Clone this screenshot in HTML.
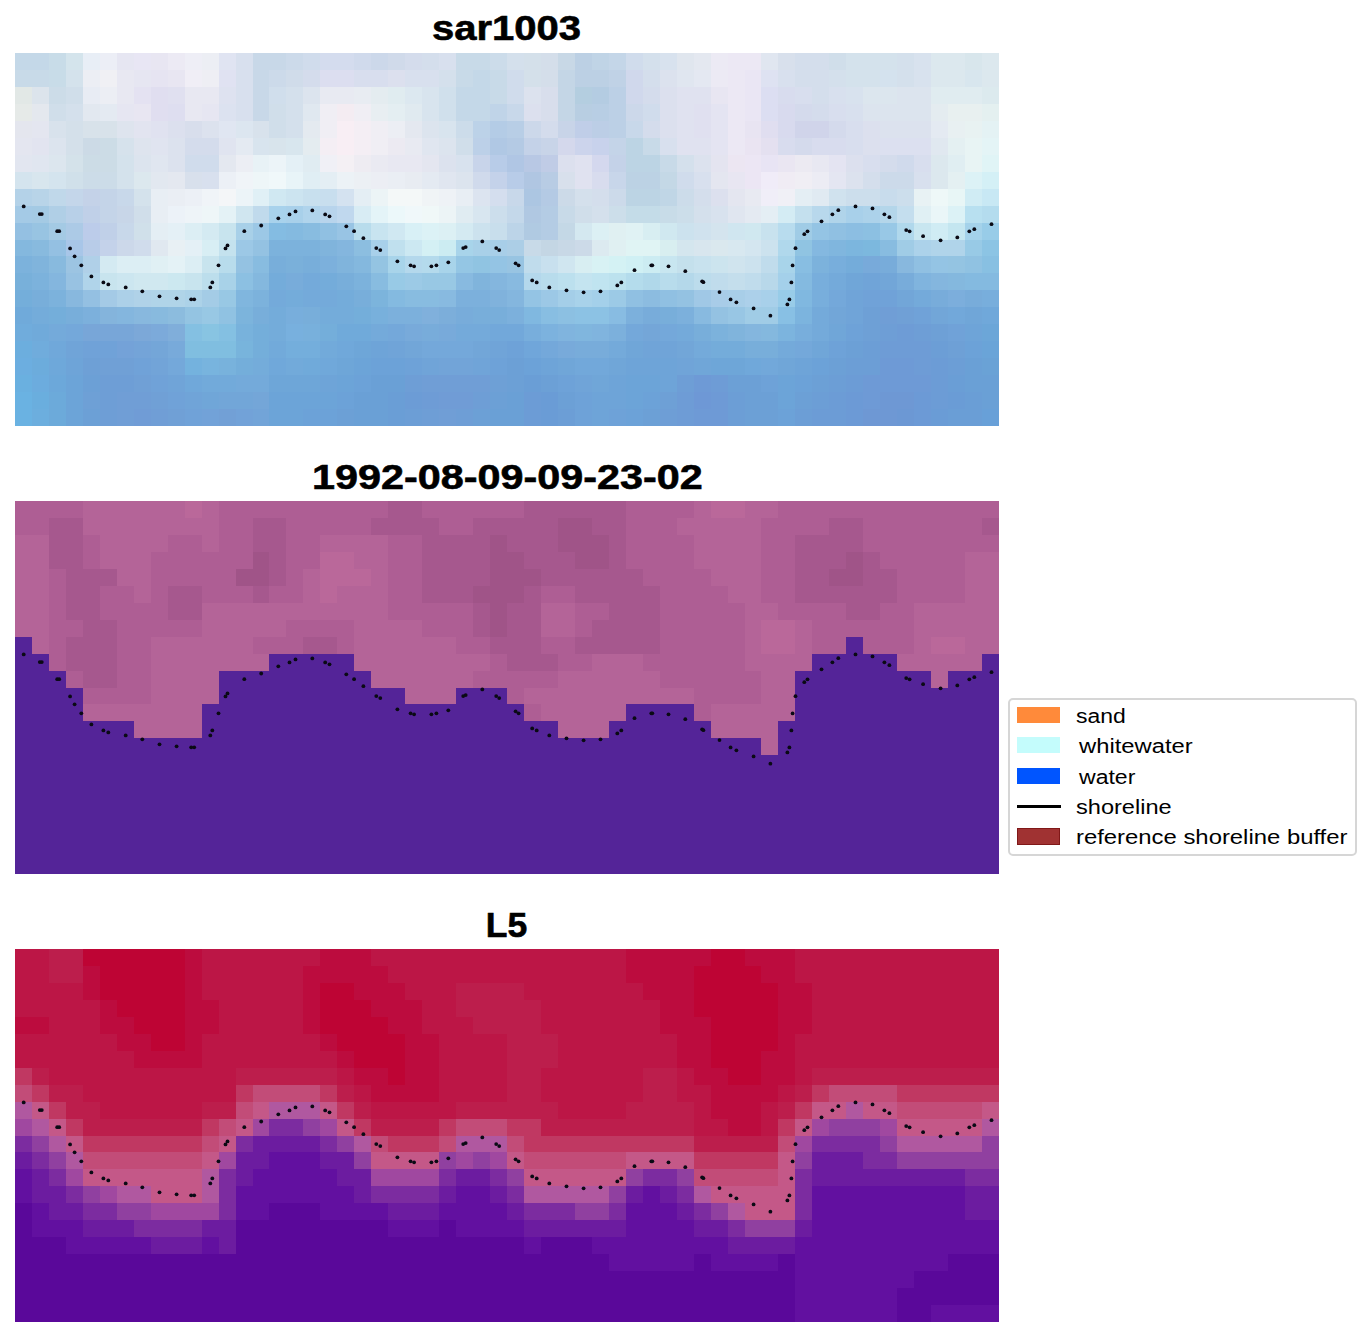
<!DOCTYPE html><html><head><meta charset="utf-8"><style>html,body{margin:0;padding:0;background:#fff;width:1370px;height:1337px;overflow:hidden;position:relative;font-family:"Liberation Sans",sans-serif;}.t{position:absolute;left:15px;width:984px;text-align:center;font-weight:bold;font-size:35.2px;line-height:1;color:#000;white-space:nowrap;-webkit-text-stroke:0.6px #000}.t span{display:inline-block;transform-origin:50% 50%}svg.im{position:absolute;left:15px;width:984px;height:373px;shape-rendering:crispEdges}.lg{position:absolute;left:1008px;top:697.5px;width:349px;height:158px;border:2px solid #d6d6d6;border-radius:5px;box-sizing:border-box;background:#fff}.lt{position:absolute;left:1076px;transform-origin:0 50%;font-size:20px;line-height:1;color:#000;white-space:nowrap}.pt{position:absolute;left:1017px;width:43px;height:16px}</style></head><body><div class="t" style="top:10.3px"><span style="transform:scaleX(1.137)">sar1003</span></div><div class="t" style="top:458.8px"><span style="transform:scaleX(1.175)">1992-08-09-09-23-02</span></div><div class="t" style="top:906.5px"><span style="transform:scaleX(1.01)">L5</span></div><svg class="im" style="top:53px" viewBox="0 0 984 373"><rect x="0.0" y="0.0" width="34.23" height="17.25" fill="#c4d8e8"/><rect x="33.93" y="0.0" width="17.27" height="17.25" fill="#c8dce8"/><rect x="50.9" y="0.0" width="17.27" height="17.25" fill="#d4e4ec"/><rect x="67.86" y="0.0" width="17.27" height="17.25" fill="#e8eef6"/><rect x="84.83" y="0.0" width="17.27" height="17.25" fill="#eceef6"/><rect x="101.79" y="0.0" width="17.27" height="17.25" fill="#e6e6f2"/><rect x="118.76" y="0.0" width="17.27" height="17.25" fill="#e8e6f4"/><rect x="135.72" y="0.0" width="17.27" height="17.25" fill="#e8e6f2"/><rect x="152.69" y="0.0" width="17.27" height="17.25" fill="#eceaf4"/><rect x="169.66" y="0.0" width="17.27" height="17.25" fill="#eeeef6"/><rect x="186.62" y="0.0" width="17.27" height="17.25" fill="#eceef4"/><rect x="203.59" y="0.0" width="17.27" height="17.25" fill="#e0e4f2"/><rect x="220.55" y="0.0" width="17.27" height="17.25" fill="#d8e0ee"/><rect x="237.52" y="0.0" width="34.23" height="17.25" fill="#c8d8e8"/><rect x="271.45" y="0.0" width="17.27" height="17.25" fill="#ccdaea"/><rect x="288.41" y="0.0" width="17.27" height="17.25" fill="#d0dcec"/><rect x="305.38" y="0.0" width="34.23" height="17.25" fill="#d4dcee"/><rect x="339.31" y="0.0" width="17.27" height="17.25" fill="#d0daec"/><rect x="356.28" y="0.0" width="17.27" height="17.25" fill="#ccd8ea"/><rect x="373.24" y="0.0" width="17.27" height="17.25" fill="#d0daea"/><rect x="390.21" y="0.0" width="17.27" height="17.25" fill="#d4dcec"/><rect x="407.17" y="0.0" width="17.27" height="17.25" fill="#d4deec"/><rect x="424.14" y="0.0" width="17.27" height="17.25" fill="#d8e0ee"/><rect x="441.1" y="0.0" width="34.23" height="17.25" fill="#c8dae8"/><rect x="475.03" y="0.0" width="17.27" height="17.25" fill="#ccdcea"/><rect x="492.0" y="0.0" width="17.27" height="17.25" fill="#d4e0ec"/><rect x="508.97" y="0.0" width="17.27" height="17.25" fill="#d4e0ea"/><rect x="525.93" y="0.0" width="17.27" height="17.25" fill="#d4deea"/><rect x="542.9" y="0.0" width="17.27" height="17.25" fill="#c8d8e6"/><rect x="559.86" y="0.0" width="17.27" height="17.25" fill="#bcd0e4"/><rect x="576.83" y="0.0" width="17.27" height="17.25" fill="#c0d4e6"/><rect x="593.79" y="0.0" width="17.27" height="17.25" fill="#c4d6e8"/><rect x="610.76" y="0.0" width="17.27" height="17.25" fill="#d0dcec"/><rect x="627.72" y="0.0" width="17.27" height="17.25" fill="#d4e0ec"/><rect x="644.69" y="0.0" width="17.27" height="17.25" fill="#d8e2ee"/><rect x="661.66" y="0.0" width="17.27" height="17.25" fill="#e0e6ee"/><rect x="678.62" y="0.0" width="17.27" height="17.25" fill="#e4e8f0"/><rect x="695.59" y="0.0" width="17.27" height="17.25" fill="#eceaf4"/><rect x="712.55" y="0.0" width="34.23" height="17.25" fill="#ece8f4"/><rect x="746.48" y="0.0" width="17.27" height="17.25" fill="#e0e6f0"/><rect x="763.45" y="0.0" width="17.27" height="17.25" fill="#d8e0ec"/><rect x="780.41" y="0.0" width="34.23" height="17.25" fill="#d4deec"/><rect x="814.34" y="0.0" width="17.27" height="17.25" fill="#d0deea"/><rect x="831.31" y="0.0" width="51.20" height="17.25" fill="#d4e2ec"/><rect x="882.21" y="0.0" width="17.27" height="17.25" fill="#d4e0ec"/><rect x="899.17" y="0.0" width="17.27" height="17.25" fill="#d8e2ee"/><rect x="916.14" y="0.0" width="34.23" height="17.25" fill="#dce8ee"/><rect x="950.07" y="0.0" width="17.27" height="17.25" fill="#d8e6ec"/><rect x="967.03" y="0.0" width="17.27" height="17.25" fill="#dce8ee"/><rect x="0.0" y="16.95" width="34.23" height="17.25" fill="#c8dae8"/><rect x="33.93" y="16.95" width="17.27" height="17.25" fill="#c8dce8"/><rect x="50.9" y="16.95" width="17.27" height="17.25" fill="#d4e2ec"/><rect x="67.86" y="16.95" width="17.27" height="17.25" fill="#eceef4"/><rect x="84.83" y="16.95" width="17.27" height="17.25" fill="#f0f0f4"/><rect x="101.79" y="16.95" width="17.27" height="17.25" fill="#e8e8f2"/><rect x="118.76" y="16.95" width="17.27" height="17.25" fill="#e6e6f2"/><rect x="135.72" y="16.95" width="17.27" height="17.25" fill="#e6e4f2"/><rect x="152.69" y="16.95" width="17.27" height="17.25" fill="#e8e6f2"/><rect x="169.66" y="16.95" width="17.27" height="17.25" fill="#f0eef6"/><rect x="186.62" y="16.95" width="17.27" height="17.25" fill="#eeeef4"/><rect x="203.59" y="16.95" width="17.27" height="17.25" fill="#e0e2f2"/><rect x="220.55" y="16.95" width="17.27" height="17.25" fill="#d8e0ee"/><rect x="237.52" y="16.95" width="17.27" height="17.25" fill="#c8d8e8"/><rect x="254.48" y="16.95" width="17.27" height="17.25" fill="#ccdaea"/><rect x="271.45" y="16.95" width="17.27" height="17.25" fill="#d0dcea"/><rect x="288.41" y="16.95" width="17.27" height="17.25" fill="#d4dcec"/><rect x="305.38" y="16.95" width="34.23" height="17.25" fill="#dcdef0"/><rect x="339.31" y="16.95" width="34.23" height="17.25" fill="#d8deee"/><rect x="373.24" y="16.95" width="17.27" height="17.25" fill="#dce0ee"/><rect x="390.21" y="16.95" width="34.23" height="17.25" fill="#d8e0ee"/><rect x="424.14" y="16.95" width="17.27" height="17.25" fill="#d4e0ec"/><rect x="441.1" y="16.95" width="17.27" height="17.25" fill="#c8dae8"/><rect x="458.07" y="16.95" width="17.27" height="17.25" fill="#c4d8e8"/><rect x="475.03" y="16.95" width="17.27" height="17.25" fill="#c8dae8"/><rect x="492.0" y="16.95" width="17.27" height="17.25" fill="#d0dcec"/><rect x="508.97" y="16.95" width="17.27" height="17.25" fill="#d4e0ea"/><rect x="525.93" y="16.95" width="17.27" height="17.25" fill="#d4deea"/><rect x="542.9" y="16.95" width="17.27" height="17.25" fill="#c4d6e6"/><rect x="559.86" y="16.95" width="34.23" height="17.25" fill="#bcd0e4"/><rect x="593.79" y="16.95" width="17.27" height="17.25" fill="#c0d2e6"/><rect x="610.76" y="16.95" width="17.27" height="17.25" fill="#d0d8ec"/><rect x="627.72" y="16.95" width="17.27" height="17.25" fill="#d4deec"/><rect x="644.69" y="16.95" width="17.27" height="17.25" fill="#dce2ee"/><rect x="661.66" y="16.95" width="17.27" height="17.25" fill="#e0e6f0"/><rect x="678.62" y="16.95" width="17.27" height="17.25" fill="#e4e8f2"/><rect x="695.59" y="16.95" width="17.27" height="17.25" fill="#eceaf4"/><rect x="712.55" y="16.95" width="17.27" height="17.25" fill="#ece8f4"/><rect x="729.52" y="16.95" width="17.27" height="17.25" fill="#eae6f4"/><rect x="746.48" y="16.95" width="17.27" height="17.25" fill="#dee2f2"/><rect x="763.45" y="16.95" width="17.27" height="17.25" fill="#d8e0ee"/><rect x="780.41" y="16.95" width="34.23" height="17.25" fill="#d4deec"/><rect x="814.34" y="16.95" width="17.27" height="17.25" fill="#d4e0ec"/><rect x="831.31" y="16.95" width="34.23" height="17.25" fill="#d4e2ec"/><rect x="865.24" y="16.95" width="17.27" height="17.25" fill="#d4e2ee"/><rect x="882.21" y="16.95" width="17.27" height="17.25" fill="#d4e0ec"/><rect x="899.17" y="16.95" width="17.27" height="17.25" fill="#d8e2ee"/><rect x="916.14" y="16.95" width="34.23" height="17.25" fill="#dce8ee"/><rect x="950.07" y="16.95" width="17.27" height="17.25" fill="#d8e6ee"/><rect x="967.03" y="16.95" width="17.27" height="17.25" fill="#dce8ee"/><rect x="0.0" y="33.91" width="17.27" height="17.25" fill="#e2e8e6"/><rect x="16.97" y="33.91" width="17.27" height="17.25" fill="#dce4ec"/><rect x="33.93" y="33.91" width="17.27" height="17.25" fill="#ccdce8"/><rect x="50.9" y="33.91" width="17.27" height="17.25" fill="#d0deea"/><rect x="67.86" y="33.91" width="17.27" height="17.25" fill="#e8ecf4"/><rect x="84.83" y="33.91" width="17.27" height="17.25" fill="#eceef4"/><rect x="101.79" y="33.91" width="17.27" height="17.25" fill="#e8e8f2"/><rect x="118.76" y="33.91" width="17.27" height="17.25" fill="#e4e2f2"/><rect x="135.72" y="33.91" width="17.27" height="17.25" fill="#e0def0"/><rect x="152.69" y="33.91" width="17.27" height="17.25" fill="#e0e0f0"/><rect x="169.66" y="33.91" width="34.23" height="17.25" fill="#e8e8f2"/><rect x="203.59" y="33.91" width="17.27" height="17.25" fill="#dee2f0"/><rect x="220.55" y="33.91" width="17.27" height="17.25" fill="#d8e0ee"/><rect x="237.52" y="33.91" width="17.27" height="17.25" fill="#c8d8e8"/><rect x="254.48" y="33.91" width="17.27" height="17.25" fill="#d0deec"/><rect x="271.45" y="33.91" width="17.27" height="17.25" fill="#d4e0ec"/><rect x="288.41" y="33.91" width="17.27" height="17.25" fill="#dce4ee"/><rect x="305.38" y="33.91" width="34.23" height="17.25" fill="#e8eaf2"/><rect x="339.31" y="33.91" width="17.27" height="17.25" fill="#e8ecf2"/><rect x="356.28" y="33.91" width="17.27" height="17.25" fill="#e4ecf0"/><rect x="373.24" y="33.91" width="17.27" height="17.25" fill="#e0ecf0"/><rect x="390.21" y="33.91" width="17.27" height="17.25" fill="#dce8f0"/><rect x="407.17" y="33.91" width="17.27" height="17.25" fill="#d8e4ee"/><rect x="424.14" y="33.91" width="17.27" height="17.25" fill="#d0e0ec"/><rect x="441.1" y="33.91" width="34.23" height="17.25" fill="#c4d8e8"/><rect x="475.03" y="33.91" width="17.27" height="17.25" fill="#c8dae8"/><rect x="492.0" y="33.91" width="17.27" height="17.25" fill="#d0dcec"/><rect x="508.97" y="33.91" width="17.27" height="17.25" fill="#dce2ee"/><rect x="525.93" y="33.91" width="17.27" height="17.25" fill="#d8deec"/><rect x="542.9" y="33.91" width="17.27" height="17.25" fill="#c4d6e6"/><rect x="559.86" y="33.91" width="17.27" height="17.25" fill="#b4cee0"/><rect x="576.83" y="33.91" width="17.27" height="17.25" fill="#b4cce2"/><rect x="593.79" y="33.91" width="17.27" height="17.25" fill="#bcd0e6"/><rect x="610.76" y="33.91" width="17.27" height="17.25" fill="#d0d8ec"/><rect x="627.72" y="33.91" width="17.27" height="17.25" fill="#d4dcec"/><rect x="644.69" y="33.91" width="17.27" height="17.25" fill="#dce0ee"/><rect x="661.66" y="33.91" width="34.23" height="17.25" fill="#e0e2f0"/><rect x="695.59" y="33.91" width="17.27" height="17.25" fill="#e8e6f2"/><rect x="712.55" y="33.91" width="17.27" height="17.25" fill="#ece8f4"/><rect x="729.52" y="33.91" width="17.27" height="17.25" fill="#eae6f4"/><rect x="746.48" y="33.91" width="17.27" height="17.25" fill="#dcdef2"/><rect x="763.45" y="33.91" width="17.27" height="17.25" fill="#d8dcee"/><rect x="780.41" y="33.91" width="17.27" height="17.25" fill="#d8deee"/><rect x="797.38" y="33.91" width="17.27" height="17.25" fill="#d4deec"/><rect x="814.34" y="33.91" width="17.27" height="17.25" fill="#d8e0ee"/><rect x="831.31" y="33.91" width="17.27" height="17.25" fill="#d8e2ee"/><rect x="848.28" y="33.91" width="34.23" height="17.25" fill="#dce6ee"/><rect x="882.21" y="33.91" width="34.23" height="17.25" fill="#dce4ee"/><rect x="916.14" y="33.91" width="51.20" height="17.25" fill="#e0ecf0"/><rect x="967.03" y="33.91" width="17.27" height="17.25" fill="#dceaee"/><rect x="0.0" y="50.86" width="17.27" height="17.25" fill="#e6eae8"/><rect x="16.97" y="50.86" width="17.27" height="17.25" fill="#e4e8ee"/><rect x="33.93" y="50.86" width="17.27" height="17.25" fill="#d0deea"/><rect x="50.9" y="50.86" width="17.27" height="17.25" fill="#d4e0ec"/><rect x="67.86" y="50.86" width="17.27" height="17.25" fill="#e2e8f0"/><rect x="84.83" y="50.86" width="17.27" height="17.25" fill="#e4eaf2"/><rect x="101.79" y="50.86" width="17.27" height="17.25" fill="#e6e6f2"/><rect x="118.76" y="50.86" width="17.27" height="17.25" fill="#e8e6f2"/><rect x="135.72" y="50.86" width="17.27" height="17.25" fill="#e0def0"/><rect x="152.69" y="50.86" width="17.27" height="17.25" fill="#dedef0"/><rect x="169.66" y="50.86" width="17.27" height="17.25" fill="#e8e8f2"/><rect x="186.62" y="50.86" width="17.27" height="17.25" fill="#e6e6f2"/><rect x="203.59" y="50.86" width="17.27" height="17.25" fill="#dce2f0"/><rect x="220.55" y="50.86" width="17.27" height="17.25" fill="#d8e0ee"/><rect x="237.52" y="50.86" width="17.27" height="17.25" fill="#c8d8e8"/><rect x="254.48" y="50.86" width="17.27" height="17.25" fill="#d0deea"/><rect x="271.45" y="50.86" width="17.27" height="17.25" fill="#d4e0ec"/><rect x="288.41" y="50.86" width="17.27" height="17.25" fill="#e0e8f0"/><rect x="305.38" y="50.86" width="17.27" height="17.25" fill="#f0eef4"/><rect x="322.34" y="50.86" width="17.27" height="17.25" fill="#f4ecf2"/><rect x="339.31" y="50.86" width="17.27" height="17.25" fill="#f0eef4"/><rect x="356.28" y="50.86" width="17.27" height="17.25" fill="#e8eef2"/><rect x="373.24" y="50.86" width="17.27" height="17.25" fill="#e4eef2"/><rect x="390.21" y="50.86" width="17.27" height="17.25" fill="#e0eaf0"/><rect x="407.17" y="50.86" width="17.27" height="17.25" fill="#d8e4ee"/><rect x="424.14" y="50.86" width="17.27" height="17.25" fill="#d0e0ec"/><rect x="441.1" y="50.86" width="34.23" height="17.25" fill="#c4d8e8"/><rect x="475.03" y="50.86" width="17.27" height="17.25" fill="#c0d4e8"/><rect x="492.0" y="50.86" width="17.27" height="17.25" fill="#c8d8ea"/><rect x="508.97" y="50.86" width="17.27" height="17.25" fill="#dce0ee"/><rect x="525.93" y="50.86" width="17.27" height="17.25" fill="#d8deec"/><rect x="542.9" y="50.86" width="17.27" height="17.25" fill="#c4d6e6"/><rect x="559.86" y="50.86" width="17.27" height="17.25" fill="#b8cee2"/><rect x="576.83" y="50.86" width="17.27" height="17.25" fill="#b8cee4"/><rect x="593.79" y="50.86" width="17.27" height="17.25" fill="#bcd0e6"/><rect x="610.76" y="50.86" width="17.27" height="17.25" fill="#ccd8ea"/><rect x="627.72" y="50.86" width="17.27" height="17.25" fill="#d0dcec"/><rect x="644.69" y="50.86" width="17.27" height="17.25" fill="#dce0ee"/><rect x="661.66" y="50.86" width="17.27" height="17.25" fill="#e0e2f0"/><rect x="678.62" y="50.86" width="17.27" height="17.25" fill="#e0e0f0"/><rect x="695.59" y="50.86" width="17.27" height="17.25" fill="#e4e4f2"/><rect x="712.55" y="50.86" width="17.27" height="17.25" fill="#ece8f4"/><rect x="729.52" y="50.86" width="17.27" height="17.25" fill="#eae6f4"/><rect x="746.48" y="50.86" width="17.27" height="17.25" fill="#dcdef2"/><rect x="763.45" y="50.86" width="17.27" height="17.25" fill="#d8daee"/><rect x="780.41" y="50.86" width="17.27" height="17.25" fill="#d4daec"/><rect x="797.38" y="50.86" width="17.27" height="17.25" fill="#d4dcec"/><rect x="814.34" y="50.86" width="17.27" height="17.25" fill="#d8deee"/><rect x="831.31" y="50.86" width="17.27" height="17.25" fill="#d8e0ee"/><rect x="848.28" y="50.86" width="68.16" height="17.25" fill="#dce4ee"/><rect x="916.14" y="50.86" width="17.27" height="17.25" fill="#e4ecf0"/><rect x="933.1" y="50.86" width="34.23" height="17.25" fill="#e8f0f0"/><rect x="967.03" y="50.86" width="17.27" height="17.25" fill="#e4f0f0"/><rect x="0.0" y="67.82" width="17.27" height="17.25" fill="#e4e6ee"/><rect x="16.97" y="67.82" width="17.27" height="17.25" fill="#e4e6f0"/><rect x="33.93" y="67.82" width="17.27" height="17.25" fill="#d8e2ec"/><rect x="50.9" y="67.82" width="17.27" height="17.25" fill="#d4e0ea"/><rect x="67.86" y="67.82" width="34.23" height="17.25" fill="#d8e2ea"/><rect x="101.79" y="67.82" width="17.27" height="17.25" fill="#dee4ee"/><rect x="118.76" y="67.82" width="17.27" height="17.25" fill="#e2e4f0"/><rect x="135.72" y="67.82" width="17.27" height="17.25" fill="#e0e2f0"/><rect x="152.69" y="67.82" width="17.27" height="17.25" fill="#dce0ee"/><rect x="169.66" y="67.82" width="17.27" height="17.25" fill="#d8deec"/><rect x="186.62" y="67.82" width="17.27" height="17.25" fill="#dce2ee"/><rect x="203.59" y="67.82" width="17.27" height="17.25" fill="#e0e6f2"/><rect x="220.55" y="67.82" width="17.27" height="17.25" fill="#dce6f0"/><rect x="237.52" y="67.82" width="17.27" height="17.25" fill="#d8e2ec"/><rect x="254.48" y="67.82" width="17.27" height="17.25" fill="#d0deea"/><rect x="271.45" y="67.82" width="17.27" height="17.25" fill="#d4e0ec"/><rect x="288.41" y="67.82" width="17.27" height="17.25" fill="#e4eaf0"/><rect x="305.38" y="67.82" width="17.27" height="17.25" fill="#f0eef4"/><rect x="322.34" y="67.82" width="17.27" height="17.25" fill="#f8eef4"/><rect x="339.31" y="67.82" width="17.27" height="17.25" fill="#f4eef4"/><rect x="356.28" y="67.82" width="17.27" height="17.25" fill="#f0eef4"/><rect x="373.24" y="67.82" width="17.27" height="17.25" fill="#eceef4"/><rect x="390.21" y="67.82" width="17.27" height="17.25" fill="#e4e8f0"/><rect x="407.17" y="67.82" width="17.27" height="17.25" fill="#dce4ee"/><rect x="424.14" y="67.82" width="17.27" height="17.25" fill="#d8e4ee"/><rect x="441.1" y="67.82" width="17.27" height="17.25" fill="#ccdcea"/><rect x="458.07" y="67.82" width="17.27" height="17.25" fill="#bcd2e8"/><rect x="475.03" y="67.82" width="17.27" height="17.25" fill="#b4cce6"/><rect x="492.0" y="67.82" width="17.27" height="17.25" fill="#b8cee6"/><rect x="508.97" y="67.82" width="17.27" height="17.25" fill="#ccd8ea"/><rect x="525.93" y="67.82" width="17.27" height="17.25" fill="#d4dcec"/><rect x="542.9" y="67.82" width="17.27" height="17.25" fill="#c8d4e8"/><rect x="559.86" y="67.82" width="17.27" height="17.25" fill="#c0cee8"/><rect x="576.83" y="67.82" width="17.27" height="17.25" fill="#bccee6"/><rect x="593.79" y="67.82" width="17.27" height="17.25" fill="#bcd0e6"/><rect x="610.76" y="67.82" width="17.27" height="17.25" fill="#c8d8ea"/><rect x="627.72" y="67.82" width="17.27" height="17.25" fill="#d4dcec"/><rect x="644.69" y="67.82" width="17.27" height="17.25" fill="#dce0ee"/><rect x="661.66" y="67.82" width="17.27" height="17.25" fill="#e0e2f0"/><rect x="678.62" y="67.82" width="17.27" height="17.25" fill="#e0e0f0"/><rect x="695.59" y="67.82" width="17.27" height="17.25" fill="#e4e4f2"/><rect x="712.55" y="67.82" width="17.27" height="17.25" fill="#ece8f4"/><rect x="729.52" y="67.82" width="17.27" height="17.25" fill="#e8e4f2"/><rect x="746.48" y="67.82" width="17.27" height="17.25" fill="#e0def0"/><rect x="763.45" y="67.82" width="17.27" height="17.25" fill="#d8daee"/><rect x="780.41" y="67.82" width="34.23" height="17.25" fill="#d0d4ea"/><rect x="814.34" y="67.82" width="17.27" height="17.25" fill="#d4daec"/><rect x="831.31" y="67.82" width="17.27" height="17.25" fill="#d8deee"/><rect x="848.28" y="67.82" width="17.27" height="17.25" fill="#dce0ee"/><rect x="865.24" y="67.82" width="51.20" height="17.25" fill="#dce2ee"/><rect x="916.14" y="67.82" width="17.27" height="17.25" fill="#e4eaf2"/><rect x="933.1" y="67.82" width="17.27" height="17.25" fill="#e8f0f2"/><rect x="950.07" y="67.82" width="17.27" height="17.25" fill="#e8f2f2"/><rect x="967.03" y="67.82" width="17.27" height="17.25" fill="#e4f2f4"/><rect x="0.0" y="84.77" width="17.27" height="17.25" fill="#e4e6f0"/><rect x="16.97" y="84.77" width="17.27" height="17.25" fill="#e2e4f0"/><rect x="33.93" y="84.77" width="17.27" height="17.25" fill="#dce4ee"/><rect x="50.9" y="84.77" width="17.27" height="17.25" fill="#d4e0ea"/><rect x="67.86" y="84.77" width="17.27" height="17.25" fill="#ccdae6"/><rect x="84.83" y="84.77" width="17.27" height="17.25" fill="#ccdce6"/><rect x="101.79" y="84.77" width="17.27" height="17.25" fill="#d6e2ec"/><rect x="118.76" y="84.77" width="17.27" height="17.25" fill="#dee4ee"/><rect x="135.72" y="84.77" width="17.27" height="17.25" fill="#e0e4f0"/><rect x="152.69" y="84.77" width="17.27" height="17.25" fill="#dce2ee"/><rect x="169.66" y="84.77" width="34.23" height="17.25" fill="#d4dcec"/><rect x="203.59" y="84.77" width="17.27" height="17.25" fill="#e0e4f0"/><rect x="220.55" y="84.77" width="17.27" height="17.25" fill="#e4eaf2"/><rect x="237.52" y="84.77" width="17.27" height="17.25" fill="#d8e4ee"/><rect x="254.48" y="84.77" width="17.27" height="17.25" fill="#d8e4ec"/><rect x="271.45" y="84.77" width="17.27" height="17.25" fill="#d8e6ee"/><rect x="288.41" y="84.77" width="17.27" height="17.25" fill="#e4ecf0"/><rect x="305.38" y="84.77" width="17.27" height="17.25" fill="#f4eef4"/><rect x="322.34" y="84.77" width="17.27" height="17.25" fill="#f8eef4"/><rect x="339.31" y="84.77" width="17.27" height="17.25" fill="#f4eef4"/><rect x="356.28" y="84.77" width="17.27" height="17.25" fill="#f0eef4"/><rect x="373.24" y="84.77" width="17.27" height="17.25" fill="#eceaf2"/><rect x="390.21" y="84.77" width="17.27" height="17.25" fill="#e8eaf2"/><rect x="407.17" y="84.77" width="17.27" height="17.25" fill="#e0e6f0"/><rect x="424.14" y="84.77" width="17.27" height="17.25" fill="#dce4ee"/><rect x="441.1" y="84.77" width="17.27" height="17.25" fill="#d0deea"/><rect x="458.07" y="84.77" width="17.27" height="17.25" fill="#bcd0e8"/><rect x="475.03" y="84.77" width="17.27" height="17.25" fill="#b0c8e4"/><rect x="492.0" y="84.77" width="17.27" height="17.25" fill="#b4cae4"/><rect x="508.97" y="84.77" width="17.27" height="17.25" fill="#c4d2e8"/><rect x="525.93" y="84.77" width="17.27" height="17.25" fill="#c8d4e8"/><rect x="542.9" y="84.77" width="17.27" height="17.25" fill="#d4d8ec"/><rect x="559.86" y="84.77" width="17.27" height="17.25" fill="#ccd4ec"/><rect x="576.83" y="84.77" width="17.27" height="17.25" fill="#c8d2ec"/><rect x="593.79" y="84.77" width="17.27" height="17.25" fill="#c4d4e8"/><rect x="610.76" y="84.77" width="17.27" height="17.25" fill="#bcd4e4"/><rect x="627.72" y="84.77" width="17.27" height="17.25" fill="#c8dae8"/><rect x="644.69" y="84.77" width="17.27" height="17.25" fill="#d8e0ee"/><rect x="661.66" y="84.77" width="34.23" height="17.25" fill="#e0e2f0"/><rect x="695.59" y="84.77" width="17.27" height="17.25" fill="#e4e4f2"/><rect x="712.55" y="84.77" width="17.27" height="17.25" fill="#ece8f4"/><rect x="729.52" y="84.77" width="17.27" height="17.25" fill="#eae4f2"/><rect x="746.48" y="84.77" width="17.27" height="17.25" fill="#e4e0f0"/><rect x="763.45" y="84.77" width="17.27" height="17.25" fill="#d8dcee"/><rect x="780.41" y="84.77" width="17.27" height="17.25" fill="#d4daec"/><rect x="797.38" y="84.77" width="34.23" height="17.25" fill="#d8dcee"/><rect x="831.31" y="84.77" width="17.27" height="17.25" fill="#d8deee"/><rect x="848.28" y="84.77" width="17.27" height="17.25" fill="#dce0ee"/><rect x="865.24" y="84.77" width="51.20" height="17.25" fill="#dce0f0"/><rect x="916.14" y="84.77" width="17.27" height="17.25" fill="#e0e8f0"/><rect x="933.1" y="84.77" width="17.27" height="17.25" fill="#e4f0f2"/><rect x="950.07" y="84.77" width="17.27" height="17.25" fill="#e8f4f4"/><rect x="967.03" y="84.77" width="17.27" height="17.25" fill="#e4f4f6"/><rect x="0.0" y="101.73" width="17.27" height="17.25" fill="#e2e6f0"/><rect x="16.97" y="101.73" width="17.27" height="17.25" fill="#e0e6f0"/><rect x="33.93" y="101.73" width="17.27" height="17.25" fill="#dce6ee"/><rect x="50.9" y="101.73" width="17.27" height="17.25" fill="#d4e2ea"/><rect x="67.86" y="101.73" width="34.23" height="17.25" fill="#ccdce6"/><rect x="101.79" y="101.73" width="17.27" height="17.25" fill="#d4e2ec"/><rect x="118.76" y="101.73" width="17.27" height="17.25" fill="#dce4ee"/><rect x="135.72" y="101.73" width="17.27" height="17.25" fill="#e0e6f0"/><rect x="152.69" y="101.73" width="17.27" height="17.25" fill="#dce2ee"/><rect x="169.66" y="101.73" width="34.23" height="17.25" fill="#d0dcec"/><rect x="203.59" y="101.73" width="17.27" height="17.25" fill="#e4e8f0"/><rect x="220.55" y="101.73" width="17.27" height="17.25" fill="#eceef4"/><rect x="237.52" y="101.73" width="17.27" height="17.25" fill="#e8f2f6"/><rect x="254.48" y="101.73" width="17.27" height="17.25" fill="#ecf4f8"/><rect x="271.45" y="101.73" width="17.27" height="17.25" fill="#e4f0f6"/><rect x="288.41" y="101.73" width="17.27" height="17.25" fill="#e0ecf2"/><rect x="305.38" y="101.73" width="17.27" height="17.25" fill="#f0f0f6"/><rect x="322.34" y="101.73" width="17.27" height="17.25" fill="#f4f0f4"/><rect x="339.31" y="101.73" width="17.27" height="17.25" fill="#eeecf2"/><rect x="356.28" y="101.73" width="17.27" height="17.25" fill="#eaeaf2"/><rect x="373.24" y="101.73" width="34.23" height="17.25" fill="#e8e8f2"/><rect x="407.17" y="101.73" width="17.27" height="17.25" fill="#e4e6f0"/><rect x="424.14" y="101.73" width="17.27" height="17.25" fill="#dce2ee"/><rect x="441.1" y="101.73" width="17.27" height="17.25" fill="#d8e2ee"/><rect x="458.07" y="101.73" width="17.27" height="17.25" fill="#c8d4ea"/><rect x="475.03" y="101.73" width="17.27" height="17.25" fill="#b8cce8"/><rect x="492.0" y="101.73" width="17.27" height="17.25" fill="#b0c6e4"/><rect x="508.97" y="101.73" width="17.27" height="17.25" fill="#b8c8e4"/><rect x="525.93" y="101.73" width="17.27" height="17.25" fill="#c0cce6"/><rect x="542.9" y="101.73" width="17.27" height="17.25" fill="#dce0ee"/><rect x="559.86" y="101.73" width="17.27" height="17.25" fill="#e0e2f0"/><rect x="576.83" y="101.73" width="17.27" height="17.25" fill="#d4d8ee"/><rect x="593.79" y="101.73" width="17.27" height="17.25" fill="#c4d2e8"/><rect x="610.76" y="101.73" width="34.23" height="17.25" fill="#bcd4e4"/><rect x="644.69" y="101.73" width="17.27" height="17.25" fill="#c8dae8"/><rect x="661.66" y="101.73" width="17.27" height="17.25" fill="#d4e0ec"/><rect x="678.62" y="101.73" width="17.27" height="17.25" fill="#dce2ee"/><rect x="695.59" y="101.73" width="17.27" height="17.25" fill="#e4e4f0"/><rect x="712.55" y="101.73" width="17.27" height="17.25" fill="#ece6f2"/><rect x="729.52" y="101.73" width="17.27" height="17.25" fill="#ece6f4"/><rect x="746.48" y="101.73" width="17.27" height="17.25" fill="#e8e4f4"/><rect x="763.45" y="101.73" width="17.27" height="17.25" fill="#eae6f2"/><rect x="780.41" y="101.73" width="17.27" height="17.25" fill="#eceaf2"/><rect x="797.38" y="101.73" width="17.27" height="17.25" fill="#e8e8f2"/><rect x="814.34" y="101.73" width="17.27" height="17.25" fill="#e4e4f2"/><rect x="831.31" y="101.73" width="17.27" height="17.25" fill="#dce0ee"/><rect x="848.28" y="101.73" width="17.27" height="17.25" fill="#d8deee"/><rect x="865.24" y="101.73" width="17.27" height="17.25" fill="#d4dcec"/><rect x="882.21" y="101.73" width="17.27" height="17.25" fill="#d0daec"/><rect x="899.17" y="101.73" width="17.27" height="17.25" fill="#d8deee"/><rect x="916.14" y="101.73" width="17.27" height="17.25" fill="#dce8ee"/><rect x="933.1" y="101.73" width="17.27" height="17.25" fill="#e0eef2"/><rect x="950.07" y="101.73" width="17.27" height="17.25" fill="#e8f4f4"/><rect x="967.03" y="101.73" width="17.27" height="17.25" fill="#e0f4f6"/><rect x="0.0" y="118.68" width="17.27" height="17.25" fill="#d4e4ee"/><rect x="16.97" y="118.68" width="17.27" height="17.25" fill="#d8e6ee"/><rect x="33.93" y="118.68" width="17.27" height="17.25" fill="#d4e4ee"/><rect x="50.9" y="118.68" width="17.27" height="17.25" fill="#d0e0ea"/><rect x="67.86" y="118.68" width="34.23" height="17.25" fill="#ccdce8"/><rect x="101.79" y="118.68" width="17.27" height="17.25" fill="#d4e2ec"/><rect x="118.76" y="118.68" width="17.27" height="17.25" fill="#dce8ee"/><rect x="135.72" y="118.68" width="17.27" height="17.25" fill="#e2e8f0"/><rect x="152.69" y="118.68" width="17.27" height="17.25" fill="#e4e8f0"/><rect x="169.66" y="118.68" width="17.27" height="17.25" fill="#d8e0ec"/><rect x="186.62" y="118.68" width="17.27" height="17.25" fill="#d8e0ee"/><rect x="203.59" y="118.68" width="17.27" height="17.25" fill="#ecf0f6"/><rect x="220.55" y="118.68" width="17.27" height="17.25" fill="#f0f4f8"/><rect x="237.52" y="118.68" width="17.27" height="17.25" fill="#eef6f8"/><rect x="254.48" y="118.68" width="17.27" height="17.25" fill="#f0f8fa"/><rect x="271.45" y="118.68" width="17.27" height="17.25" fill="#e8f4f8"/><rect x="288.41" y="118.68" width="17.27" height="17.25" fill="#e0eef4"/><rect x="305.38" y="118.68" width="17.27" height="17.25" fill="#e4eef4"/><rect x="322.34" y="118.68" width="17.27" height="17.25" fill="#ecf2f6"/><rect x="339.31" y="118.68" width="17.27" height="17.25" fill="#ecf0f4"/><rect x="356.28" y="118.68" width="17.27" height="17.25" fill="#eceef4"/><rect x="373.24" y="118.68" width="17.27" height="17.25" fill="#eaeef4"/><rect x="390.21" y="118.68" width="17.27" height="17.25" fill="#e8ecf2"/><rect x="407.17" y="118.68" width="17.27" height="17.25" fill="#e4eaf2"/><rect x="424.14" y="118.68" width="17.27" height="17.25" fill="#e0e6f0"/><rect x="441.1" y="118.68" width="17.27" height="17.25" fill="#dce4ee"/><rect x="458.07" y="118.68" width="17.27" height="17.25" fill="#d0daec"/><rect x="475.03" y="118.68" width="17.27" height="17.25" fill="#c4d2ea"/><rect x="492.0" y="118.68" width="17.27" height="17.25" fill="#b8cce8"/><rect x="508.97" y="118.68" width="17.27" height="17.25" fill="#b0c6e2"/><rect x="525.93" y="118.68" width="17.27" height="17.25" fill="#b8cce4"/><rect x="542.9" y="118.68" width="17.27" height="17.25" fill="#d8e0ec"/><rect x="559.86" y="118.68" width="17.27" height="17.25" fill="#e0e2f0"/><rect x="576.83" y="118.68" width="17.27" height="17.25" fill="#d8dcee"/><rect x="593.79" y="118.68" width="17.27" height="17.25" fill="#c8d6ea"/><rect x="610.76" y="118.68" width="34.23" height="17.25" fill="#bcd2e4"/><rect x="644.69" y="118.68" width="17.27" height="17.25" fill="#c4d8e6"/><rect x="661.66" y="118.68" width="17.27" height="17.25" fill="#d0dcec"/><rect x="678.62" y="118.68" width="17.27" height="17.25" fill="#d8e0ee"/><rect x="695.59" y="118.68" width="17.27" height="17.25" fill="#e4e6f0"/><rect x="712.55" y="118.68" width="17.27" height="17.25" fill="#e8e6f2"/><rect x="729.52" y="118.68" width="17.27" height="17.25" fill="#ece6f4"/><rect x="746.48" y="118.68" width="17.27" height="17.25" fill="#f0ecf8"/><rect x="763.45" y="118.68" width="17.27" height="17.25" fill="#f0ecf4"/><rect x="780.41" y="118.68" width="17.27" height="17.25" fill="#f0eef4"/><rect x="797.38" y="118.68" width="17.27" height="17.25" fill="#ececf4"/><rect x="814.34" y="118.68" width="17.27" height="17.25" fill="#e4e6f2"/><rect x="831.31" y="118.68" width="17.27" height="17.25" fill="#dce2ee"/><rect x="848.28" y="118.68" width="17.27" height="17.25" fill="#d4deec"/><rect x="865.24" y="118.68" width="34.23" height="17.25" fill="#ccdaea"/><rect x="899.17" y="118.68" width="17.27" height="17.25" fill="#d8e0ee"/><rect x="916.14" y="118.68" width="17.27" height="17.25" fill="#dce8ee"/><rect x="933.1" y="118.68" width="17.27" height="17.25" fill="#e4f0f2"/><rect x="950.07" y="118.68" width="17.27" height="17.25" fill="#dcf2f6"/><rect x="967.03" y="118.68" width="17.27" height="17.25" fill="#d4f0f6"/><rect x="0.0" y="135.64" width="17.27" height="17.25" fill="#b4d2e8"/><rect x="16.97" y="135.64" width="17.27" height="17.25" fill="#b8d4e8"/><rect x="33.93" y="135.64" width="17.27" height="17.25" fill="#c0d8ea"/><rect x="50.9" y="135.64" width="17.27" height="17.25" fill="#c4d6ea"/><rect x="67.86" y="135.64" width="17.27" height="17.25" fill="#c4d2e8"/><rect x="84.83" y="135.64" width="17.27" height="17.25" fill="#c4d4e8"/><rect x="101.79" y="135.64" width="17.27" height="17.25" fill="#c8d8ea"/><rect x="118.76" y="135.64" width="17.27" height="17.25" fill="#d4e2ec"/><rect x="135.72" y="135.64" width="17.27" height="17.25" fill="#e8eef4"/><rect x="152.69" y="135.64" width="17.27" height="17.25" fill="#eaeef4"/><rect x="169.66" y="135.64" width="17.27" height="17.25" fill="#ecf0f6"/><rect x="186.62" y="135.64" width="17.27" height="17.25" fill="#f0f4f8"/><rect x="203.59" y="135.64" width="17.27" height="17.25" fill="#f4f6f8"/><rect x="220.55" y="135.64" width="17.27" height="17.25" fill="#ecf4f8"/><rect x="237.52" y="135.64" width="17.27" height="17.25" fill="#e0f0f6"/><rect x="254.48" y="135.64" width="17.27" height="17.25" fill="#d0e8f2"/><rect x="271.45" y="135.64" width="17.27" height="17.25" fill="#cce4f0"/><rect x="288.41" y="135.64" width="17.27" height="17.25" fill="#c8e0ee"/><rect x="305.38" y="135.64" width="17.27" height="17.25" fill="#c8deee"/><rect x="322.34" y="135.64" width="17.27" height="17.25" fill="#d4e2f0"/><rect x="339.31" y="135.64" width="17.27" height="17.25" fill="#e4eef4"/><rect x="356.28" y="135.64" width="17.27" height="17.25" fill="#ecf4f6"/><rect x="373.24" y="135.64" width="34.23" height="17.25" fill="#f4f8f8"/><rect x="407.17" y="135.64" width="17.27" height="17.25" fill="#f0f4f6"/><rect x="424.14" y="135.64" width="17.27" height="17.25" fill="#eef2f6"/><rect x="441.1" y="135.64" width="17.27" height="17.25" fill="#e8eef4"/><rect x="458.07" y="135.64" width="17.27" height="17.25" fill="#dce4f0"/><rect x="475.03" y="135.64" width="17.27" height="17.25" fill="#d4deee"/><rect x="492.0" y="135.64" width="17.27" height="17.25" fill="#c8d8ea"/><rect x="508.97" y="135.64" width="17.27" height="17.25" fill="#acc6e2"/><rect x="525.93" y="135.64" width="17.27" height="17.25" fill="#b4cae4"/><rect x="542.9" y="135.64" width="17.27" height="17.25" fill="#ccdae8"/><rect x="559.86" y="135.64" width="17.27" height="17.25" fill="#d4e0ec"/><rect x="576.83" y="135.64" width="17.27" height="17.25" fill="#d4deec"/><rect x="593.79" y="135.64" width="17.27" height="17.25" fill="#ccdaea"/><rect x="610.76" y="135.64" width="34.23" height="17.25" fill="#bcd4e4"/><rect x="644.69" y="135.64" width="17.27" height="17.25" fill="#c0d6e6"/><rect x="661.66" y="135.64" width="17.27" height="17.25" fill="#ccdcea"/><rect x="678.62" y="135.64" width="17.27" height="17.25" fill="#d4deec"/><rect x="695.59" y="135.64" width="17.27" height="17.25" fill="#dce0ee"/><rect x="712.55" y="135.64" width="17.27" height="17.25" fill="#e4e6f0"/><rect x="729.52" y="135.64" width="17.27" height="17.25" fill="#e8eaf2"/><rect x="746.48" y="135.64" width="17.27" height="17.25" fill="#f0eef8"/><rect x="763.45" y="135.64" width="17.27" height="17.25" fill="#f0f0f6"/><rect x="780.41" y="135.64" width="17.27" height="17.25" fill="#e4eef4"/><rect x="797.38" y="135.64" width="17.27" height="17.25" fill="#e0eaf2"/><rect x="814.34" y="135.64" width="17.27" height="17.25" fill="#d0e2ee"/><rect x="831.31" y="135.64" width="34.23" height="17.25" fill="#ccdeec"/><rect x="865.24" y="135.64" width="17.27" height="17.25" fill="#c8dcec"/><rect x="882.21" y="135.64" width="17.27" height="17.25" fill="#ccdeec"/><rect x="899.17" y="135.64" width="17.27" height="17.25" fill="#e8f2f4"/><rect x="916.14" y="135.64" width="17.27" height="17.25" fill="#eef8f8"/><rect x="933.1" y="135.64" width="17.27" height="17.25" fill="#e8f6f6"/><rect x="950.07" y="135.64" width="17.27" height="17.25" fill="#d0ecf4"/><rect x="967.03" y="135.64" width="17.27" height="17.25" fill="#c8e8f4"/><rect x="0.0" y="152.59" width="17.27" height="17.25" fill="#a4cae6"/><rect x="16.97" y="152.59" width="17.27" height="17.25" fill="#a4cae4"/><rect x="33.93" y="152.59" width="17.27" height="17.25" fill="#b0cfe6"/><rect x="50.9" y="152.59" width="17.27" height="17.25" fill="#b8d0e8"/><rect x="67.86" y="152.59" width="17.27" height="17.25" fill="#c0d0e8"/><rect x="84.83" y="152.59" width="17.27" height="17.25" fill="#c4d4e8"/><rect x="101.79" y="152.59" width="17.27" height="17.25" fill="#c8d6e8"/><rect x="118.76" y="152.59" width="17.27" height="17.25" fill="#d0deea"/><rect x="135.72" y="152.59" width="17.27" height="17.25" fill="#e8eef4"/><rect x="152.69" y="152.59" width="17.27" height="17.25" fill="#ecf2f8"/><rect x="169.66" y="152.59" width="17.27" height="17.25" fill="#eef4f8"/><rect x="186.62" y="152.59" width="17.27" height="17.25" fill="#eef6f8"/><rect x="203.59" y="152.59" width="17.27" height="17.25" fill="#e4f2f6"/><rect x="220.55" y="152.59" width="17.27" height="17.25" fill="#d0e6f0"/><rect x="237.52" y="152.59" width="17.27" height="17.25" fill="#c0daec"/><rect x="254.48" y="152.59" width="17.27" height="17.25" fill="#a8d2ec"/><rect x="271.45" y="152.59" width="17.27" height="17.25" fill="#a8d0ea"/><rect x="288.41" y="152.59" width="17.27" height="17.25" fill="#b0d4ec"/><rect x="305.38" y="152.59" width="17.27" height="17.25" fill="#b8d4ec"/><rect x="322.34" y="152.59" width="17.27" height="17.25" fill="#c0d8ee"/><rect x="339.31" y="152.59" width="17.27" height="17.25" fill="#d8ecf4"/><rect x="356.28" y="152.59" width="17.27" height="17.25" fill="#e4f4f8"/><rect x="373.24" y="152.59" width="17.27" height="17.25" fill="#ecf8fa"/><rect x="390.21" y="152.59" width="17.27" height="17.25" fill="#f0f8fa"/><rect x="407.17" y="152.59" width="17.27" height="17.25" fill="#f0f8f8"/><rect x="424.14" y="152.59" width="17.27" height="17.25" fill="#ecf4f6"/><rect x="441.1" y="152.59" width="17.27" height="17.25" fill="#e0ecf2"/><rect x="458.07" y="152.59" width="17.27" height="17.25" fill="#d8e6f0"/><rect x="475.03" y="152.59" width="17.27" height="17.25" fill="#ccdeec"/><rect x="492.0" y="152.59" width="17.27" height="17.25" fill="#c4d8ea"/><rect x="508.97" y="152.59" width="17.27" height="17.25" fill="#b0c8e2"/><rect x="525.93" y="152.59" width="17.27" height="17.25" fill="#b4cce4"/><rect x="542.9" y="152.59" width="17.27" height="17.25" fill="#c8dae8"/><rect x="559.86" y="152.59" width="17.27" height="17.25" fill="#d0deea"/><rect x="576.83" y="152.59" width="17.27" height="17.25" fill="#d4e0ec"/><rect x="593.79" y="152.59" width="17.27" height="17.25" fill="#ccdeea"/><rect x="610.76" y="152.59" width="34.23" height="17.25" fill="#c4dce8"/><rect x="644.69" y="152.59" width="17.27" height="17.25" fill="#c8dce8"/><rect x="661.66" y="152.59" width="17.27" height="17.25" fill="#ccdeea"/><rect x="678.62" y="152.59" width="17.27" height="17.25" fill="#d4e0ec"/><rect x="695.59" y="152.59" width="17.27" height="17.25" fill="#d8e2ee"/><rect x="712.55" y="152.59" width="17.27" height="17.25" fill="#e0e6f0"/><rect x="729.52" y="152.59" width="17.27" height="17.25" fill="#e4eaf2"/><rect x="746.48" y="152.59" width="17.27" height="17.25" fill="#e4eef4"/><rect x="763.45" y="152.59" width="17.27" height="17.25" fill="#d4ecf4"/><rect x="780.41" y="152.59" width="17.27" height="17.25" fill="#c4e0ee"/><rect x="797.38" y="152.59" width="17.27" height="17.25" fill="#b8d8ec"/><rect x="814.34" y="152.59" width="17.27" height="17.25" fill="#b0d4ea"/><rect x="831.31" y="152.59" width="17.27" height="17.25" fill="#a8d0ea"/><rect x="848.28" y="152.59" width="17.27" height="17.25" fill="#acd2ea"/><rect x="865.24" y="152.59" width="17.27" height="17.25" fill="#b4d6ea"/><rect x="882.21" y="152.59" width="17.27" height="17.25" fill="#c4deee"/><rect x="899.17" y="152.59" width="17.27" height="17.25" fill="#e0f0f4"/><rect x="916.14" y="152.59" width="17.27" height="17.25" fill="#eaf6f8"/><rect x="933.1" y="152.59" width="17.27" height="17.25" fill="#dcf2f6"/><rect x="950.07" y="152.59" width="17.27" height="17.25" fill="#b8e0f0"/><rect x="967.03" y="152.59" width="17.27" height="17.25" fill="#b4dcee"/><rect x="0.0" y="169.55" width="17.27" height="17.25" fill="#94c0e2"/><rect x="16.97" y="169.55" width="17.27" height="17.25" fill="#98c4e2"/><rect x="33.93" y="169.55" width="17.27" height="17.25" fill="#a4cae4"/><rect x="50.9" y="169.55" width="17.27" height="17.25" fill="#accae6"/><rect x="67.86" y="169.55" width="17.27" height="17.25" fill="#bcccea"/><rect x="84.83" y="169.55" width="17.27" height="17.25" fill="#c0d0e8"/><rect x="101.79" y="169.55" width="17.27" height="17.25" fill="#c8d8ea"/><rect x="118.76" y="169.55" width="17.27" height="17.25" fill="#d0e0ea"/><rect x="135.72" y="169.55" width="17.27" height="17.25" fill="#e4eef4"/><rect x="152.69" y="169.55" width="17.27" height="17.25" fill="#e4f0f6"/><rect x="169.66" y="169.55" width="17.27" height="17.25" fill="#dceef4"/><rect x="186.62" y="169.55" width="17.27" height="17.25" fill="#d4eaf2"/><rect x="203.59" y="169.55" width="17.27" height="17.25" fill="#c8e4ee"/><rect x="220.55" y="169.55" width="17.27" height="17.25" fill="#a8d0e8"/><rect x="237.52" y="169.55" width="17.27" height="17.25" fill="#9cc8e6"/><rect x="254.48" y="169.55" width="17.27" height="17.25" fill="#84bce2"/><rect x="271.45" y="169.55" width="17.27" height="17.25" fill="#84bae0"/><rect x="288.41" y="169.55" width="17.27" height="17.25" fill="#88bce0"/><rect x="305.38" y="169.55" width="17.27" height="17.25" fill="#90c0e2"/><rect x="322.34" y="169.55" width="17.27" height="17.25" fill="#98c4e4"/><rect x="339.31" y="169.55" width="17.27" height="17.25" fill="#b8dcec"/><rect x="356.28" y="169.55" width="17.27" height="17.25" fill="#c8e4f0"/><rect x="373.24" y="169.55" width="17.27" height="17.25" fill="#d0e8f2"/><rect x="390.21" y="169.55" width="17.27" height="17.25" fill="#d8f0f6"/><rect x="407.17" y="169.55" width="17.27" height="17.25" fill="#dcf2f6"/><rect x="424.14" y="169.55" width="17.27" height="17.25" fill="#dcf0f4"/><rect x="441.1" y="169.55" width="17.27" height="17.25" fill="#d4eaf2"/><rect x="458.07" y="169.55" width="17.27" height="17.25" fill="#cce2ee"/><rect x="475.03" y="169.55" width="17.27" height="17.25" fill="#c8deec"/><rect x="492.0" y="169.55" width="17.27" height="17.25" fill="#bcd4e8"/><rect x="508.97" y="169.55" width="17.27" height="17.25" fill="#b0cae2"/><rect x="525.93" y="169.55" width="17.27" height="17.25" fill="#b4cce4"/><rect x="542.9" y="169.55" width="17.27" height="17.25" fill="#c4d8e6"/><rect x="559.86" y="169.55" width="17.27" height="17.25" fill="#d4e8f0"/><rect x="576.83" y="169.55" width="17.27" height="17.25" fill="#dcf0f4"/><rect x="593.79" y="169.55" width="17.27" height="17.25" fill="#e0f0f2"/><rect x="610.76" y="169.55" width="17.27" height="17.25" fill="#e0f2f4"/><rect x="627.72" y="169.55" width="17.27" height="17.25" fill="#d8eef2"/><rect x="644.69" y="169.55" width="17.27" height="17.25" fill="#d0e8f0"/><rect x="661.66" y="169.55" width="17.27" height="17.25" fill="#cce2ee"/><rect x="678.62" y="169.55" width="17.27" height="17.25" fill="#d0e2ee"/><rect x="695.59" y="169.55" width="17.27" height="17.25" fill="#d4e4ee"/><rect x="712.55" y="169.55" width="17.27" height="17.25" fill="#d0e6f0"/><rect x="729.52" y="169.55" width="17.27" height="17.25" fill="#d0e8f0"/><rect x="746.48" y="169.55" width="17.27" height="17.25" fill="#c8e2ee"/><rect x="763.45" y="169.55" width="17.27" height="17.25" fill="#b8dcee"/><rect x="780.41" y="169.55" width="17.27" height="17.25" fill="#a0cce6"/><rect x="797.38" y="169.55" width="17.27" height="17.25" fill="#94c4e4"/><rect x="814.34" y="169.55" width="17.27" height="17.25" fill="#90c0e2"/><rect x="831.31" y="169.55" width="17.27" height="17.25" fill="#8cbee2"/><rect x="848.28" y="169.55" width="17.27" height="17.25" fill="#8cc0e2"/><rect x="865.24" y="169.55" width="17.27" height="17.25" fill="#98c8e6"/><rect x="882.21" y="169.55" width="17.27" height="17.25" fill="#b0d8ec"/><rect x="899.17" y="169.55" width="17.27" height="17.25" fill="#c8e6f0"/><rect x="916.14" y="169.55" width="17.27" height="17.25" fill="#d0ecf4"/><rect x="933.1" y="169.55" width="17.27" height="17.25" fill="#c4e6f0"/><rect x="950.07" y="169.55" width="17.27" height="17.25" fill="#a4d2ea"/><rect x="967.03" y="169.55" width="17.27" height="17.25" fill="#98cce8"/><rect x="0.0" y="186.5" width="17.27" height="17.25" fill="#84b8de"/><rect x="16.97" y="186.5" width="17.27" height="17.25" fill="#88bade"/><rect x="33.93" y="186.5" width="17.27" height="17.25" fill="#94c0e2"/><rect x="50.9" y="186.5" width="17.27" height="17.25" fill="#a8c6e8"/><rect x="67.86" y="186.5" width="17.27" height="17.25" fill="#b8cce8"/><rect x="84.83" y="186.5" width="17.27" height="17.25" fill="#c4d2ea"/><rect x="101.79" y="186.5" width="17.27" height="17.25" fill="#ccd8ea"/><rect x="118.76" y="186.5" width="17.27" height="17.25" fill="#d0dcec"/><rect x="135.72" y="186.5" width="17.27" height="17.25" fill="#e0e8f0"/><rect x="152.69" y="186.5" width="17.27" height="17.25" fill="#e8f0f4"/><rect x="169.66" y="186.5" width="17.27" height="17.25" fill="#e4f0f6"/><rect x="186.62" y="186.5" width="17.27" height="17.25" fill="#d8eef4"/><rect x="203.59" y="186.5" width="17.27" height="17.25" fill="#c4e2ee"/><rect x="220.55" y="186.5" width="17.27" height="17.25" fill="#9cc8e6"/><rect x="237.52" y="186.5" width="17.27" height="17.25" fill="#94c2e2"/><rect x="254.48" y="186.5" width="51.20" height="17.25" fill="#7cb2dc"/><rect x="305.38" y="186.5" width="17.27" height="17.25" fill="#80b4dc"/><rect x="322.34" y="186.5" width="17.27" height="17.25" fill="#84b6de"/><rect x="339.31" y="186.5" width="17.27" height="17.25" fill="#8cbee0"/><rect x="356.28" y="186.5" width="17.27" height="17.25" fill="#a8d0ea"/><rect x="373.24" y="186.5" width="17.27" height="17.25" fill="#c0e0ee"/><rect x="390.21" y="186.5" width="17.27" height="17.25" fill="#cce8f2"/><rect x="407.17" y="186.5" width="17.27" height="17.25" fill="#d4f0f4"/><rect x="424.14" y="186.5" width="17.27" height="17.25" fill="#ccecf2"/><rect x="441.1" y="186.5" width="17.27" height="17.25" fill="#a8d4ea"/><rect x="458.07" y="186.5" width="17.27" height="17.25" fill="#a8d0e8"/><rect x="475.03" y="186.5" width="17.27" height="17.25" fill="#a8cee8"/><rect x="492.0" y="186.5" width="17.27" height="17.25" fill="#accee6"/><rect x="508.97" y="186.5" width="17.27" height="17.25" fill="#c8dae8"/><rect x="525.93" y="186.5" width="17.27" height="17.25" fill="#c4d6e4"/><rect x="542.9" y="186.5" width="17.27" height="17.25" fill="#c8d8e6"/><rect x="559.86" y="186.5" width="17.27" height="17.25" fill="#ccdae8"/><rect x="576.83" y="186.5" width="17.27" height="17.25" fill="#dceaf0"/><rect x="593.79" y="186.5" width="17.27" height="17.25" fill="#e0f0f2"/><rect x="610.76" y="186.5" width="34.23" height="17.25" fill="#e0f4f4"/><rect x="644.69" y="186.5" width="17.27" height="17.25" fill="#d8eef0"/><rect x="661.66" y="186.5" width="17.27" height="17.25" fill="#d4e6ee"/><rect x="678.62" y="186.5" width="17.27" height="17.25" fill="#d8e6ee"/><rect x="695.59" y="186.5" width="17.27" height="17.25" fill="#dae8ee"/><rect x="712.55" y="186.5" width="17.27" height="17.25" fill="#d8e8f0"/><rect x="729.52" y="186.5" width="17.27" height="17.25" fill="#d4e6f0"/><rect x="746.48" y="186.5" width="17.27" height="17.25" fill="#cce2ee"/><rect x="763.45" y="186.5" width="17.27" height="17.25" fill="#b0d8ec"/><rect x="780.41" y="186.5" width="17.27" height="17.25" fill="#90c4e2"/><rect x="797.38" y="186.5" width="17.27" height="17.25" fill="#84b8e0"/><rect x="814.34" y="186.5" width="17.27" height="17.25" fill="#80b6de"/><rect x="831.31" y="186.5" width="17.27" height="17.25" fill="#7cb6de"/><rect x="848.28" y="186.5" width="17.27" height="17.25" fill="#7cb8de"/><rect x="865.24" y="186.5" width="17.27" height="17.25" fill="#88bce0"/><rect x="882.21" y="186.5" width="17.27" height="17.25" fill="#a0cce6"/><rect x="899.17" y="186.5" width="17.27" height="17.25" fill="#acd2ea"/><rect x="916.14" y="186.5" width="34.23" height="17.25" fill="#b0d4ea"/><rect x="950.07" y="186.5" width="17.27" height="17.25" fill="#98cae6"/><rect x="967.03" y="186.5" width="17.27" height="17.25" fill="#8cc4e4"/><rect x="0.0" y="203.45" width="17.27" height="17.25" fill="#7cb2dc"/><rect x="16.97" y="203.45" width="17.27" height="17.25" fill="#80b4dc"/><rect x="33.93" y="203.45" width="17.27" height="17.25" fill="#88bade"/><rect x="50.9" y="203.45" width="17.27" height="17.25" fill="#9cc4e2"/><rect x="67.86" y="203.45" width="17.27" height="17.25" fill="#b0d0e8"/><rect x="84.83" y="203.45" width="17.27" height="17.25" fill="#d4eaf2"/><rect x="101.79" y="203.45" width="34.23" height="17.25" fill="#dceef4"/><rect x="135.72" y="203.45" width="17.27" height="17.25" fill="#e0f0f4"/><rect x="152.69" y="203.45" width="17.27" height="17.25" fill="#e4f2f6"/><rect x="169.66" y="203.45" width="17.27" height="17.25" fill="#dceef4"/><rect x="186.62" y="203.45" width="17.27" height="17.25" fill="#c8e4ee"/><rect x="203.59" y="203.45" width="17.27" height="17.25" fill="#b8dcec"/><rect x="220.55" y="203.45" width="17.27" height="17.25" fill="#94c2e2"/><rect x="237.52" y="203.45" width="17.27" height="17.25" fill="#88bce0"/><rect x="254.48" y="203.45" width="17.27" height="17.25" fill="#78aeda"/><rect x="271.45" y="203.45" width="17.27" height="17.25" fill="#7ab0da"/><rect x="288.41" y="203.45" width="17.27" height="17.25" fill="#78aeda"/><rect x="305.38" y="203.45" width="17.27" height="17.25" fill="#7cb0dc"/><rect x="322.34" y="203.45" width="17.27" height="17.25" fill="#80b4dc"/><rect x="339.31" y="203.45" width="17.27" height="17.25" fill="#84b8de"/><rect x="356.28" y="203.45" width="17.27" height="17.25" fill="#94c4e2"/><rect x="373.24" y="203.45" width="17.27" height="17.25" fill="#a8d4ea"/><rect x="390.21" y="203.45" width="17.27" height="17.25" fill="#b4d8ec"/><rect x="407.17" y="203.45" width="17.27" height="17.25" fill="#b4daec"/><rect x="424.14" y="203.45" width="17.27" height="17.25" fill="#a8d4ea"/><rect x="441.1" y="203.45" width="17.27" height="17.25" fill="#94c6e4"/><rect x="458.07" y="203.45" width="17.27" height="17.25" fill="#90c4e2"/><rect x="475.03" y="203.45" width="17.27" height="17.25" fill="#94c4e4"/><rect x="492.0" y="203.45" width="17.27" height="17.25" fill="#98c4e2"/><rect x="508.97" y="203.45" width="17.27" height="17.25" fill="#c0dcec"/><rect x="525.93" y="203.45" width="17.27" height="17.25" fill="#c8e0ee"/><rect x="542.9" y="203.45" width="17.27" height="17.25" fill="#d0e6f0"/><rect x="559.86" y="203.45" width="17.27" height="17.25" fill="#d8eef2"/><rect x="576.83" y="203.45" width="17.27" height="17.25" fill="#d8f2f4"/><rect x="593.79" y="203.45" width="17.27" height="17.25" fill="#d4f2f4"/><rect x="610.76" y="203.45" width="17.27" height="17.25" fill="#d0f0f4"/><rect x="627.72" y="203.45" width="17.27" height="17.25" fill="#ccecf2"/><rect x="644.69" y="203.45" width="17.27" height="17.25" fill="#c8e6f0"/><rect x="661.66" y="203.45" width="17.27" height="17.25" fill="#c4e0ec"/><rect x="678.62" y="203.45" width="17.27" height="17.25" fill="#c8e2ee"/><rect x="695.59" y="203.45" width="17.27" height="17.25" fill="#cce4ee"/><rect x="712.55" y="203.45" width="17.27" height="17.25" fill="#d0e4ee"/><rect x="729.52" y="203.45" width="17.27" height="17.25" fill="#cce2ee"/><rect x="746.48" y="203.45" width="17.27" height="17.25" fill="#c0dcec"/><rect x="763.45" y="203.45" width="17.27" height="17.25" fill="#a8d4ea"/><rect x="780.41" y="203.45" width="17.27" height="17.25" fill="#88bee2"/><rect x="797.38" y="203.45" width="17.27" height="17.25" fill="#7cb2dc"/><rect x="814.34" y="203.45" width="17.27" height="17.25" fill="#78aedc"/><rect x="831.31" y="203.45" width="17.27" height="17.25" fill="#74acda"/><rect x="848.28" y="203.45" width="17.27" height="17.25" fill="#78aada"/><rect x="865.24" y="203.45" width="17.27" height="17.25" fill="#78acda"/><rect x="882.21" y="203.45" width="17.27" height="17.25" fill="#88b8de"/><rect x="899.17" y="203.45" width="17.27" height="17.25" fill="#90c0e2"/><rect x="916.14" y="203.45" width="17.27" height="17.25" fill="#94c4e4"/><rect x="933.1" y="203.45" width="17.27" height="17.25" fill="#94c4e2"/><rect x="950.07" y="203.45" width="17.27" height="17.25" fill="#90c2e2"/><rect x="967.03" y="203.45" width="17.27" height="17.25" fill="#88c0e2"/><rect x="0.0" y="220.41" width="17.27" height="17.25" fill="#78b0da"/><rect x="16.97" y="220.41" width="17.27" height="17.25" fill="#7cb2dc"/><rect x="33.93" y="220.41" width="17.27" height="17.25" fill="#84b6de"/><rect x="50.9" y="220.41" width="17.27" height="17.25" fill="#98c2e2"/><rect x="67.86" y="220.41" width="17.27" height="17.25" fill="#b0d4ea"/><rect x="84.83" y="220.41" width="17.27" height="17.25" fill="#c8e4ee"/><rect x="101.79" y="220.41" width="17.27" height="17.25" fill="#cce6f0"/><rect x="118.76" y="220.41" width="34.23" height="17.25" fill="#d0e8f0"/><rect x="152.69" y="220.41" width="17.27" height="17.25" fill="#cce8f0"/><rect x="169.66" y="220.41" width="17.27" height="17.25" fill="#c8e4ee"/><rect x="186.62" y="220.41" width="17.27" height="17.25" fill="#bcdeec"/><rect x="203.59" y="220.41" width="17.27" height="17.25" fill="#a8d2e8"/><rect x="220.55" y="220.41" width="17.27" height="17.25" fill="#8cc0e2"/><rect x="237.52" y="220.41" width="17.27" height="17.25" fill="#84b8de"/><rect x="254.48" y="220.41" width="17.27" height="17.25" fill="#74acda"/><rect x="271.45" y="220.41" width="17.27" height="17.25" fill="#78acda"/><rect x="288.41" y="220.41" width="17.27" height="17.25" fill="#74aada"/><rect x="305.38" y="220.41" width="17.27" height="17.25" fill="#74acda"/><rect x="322.34" y="220.41" width="17.27" height="17.25" fill="#78aeda"/><rect x="339.31" y="220.41" width="17.27" height="17.25" fill="#7cb2dc"/><rect x="356.28" y="220.41" width="17.27" height="17.25" fill="#88bce0"/><rect x="373.24" y="220.41" width="17.27" height="17.25" fill="#98cae6"/><rect x="390.21" y="220.41" width="17.27" height="17.25" fill="#9ccae6"/><rect x="407.17" y="220.41" width="34.23" height="17.25" fill="#98c8e4"/><rect x="441.1" y="220.41" width="17.27" height="17.25" fill="#88bae0"/><rect x="458.07" y="220.41" width="17.27" height="17.25" fill="#80b4dc"/><rect x="475.03" y="220.41" width="17.27" height="17.25" fill="#84b6de"/><rect x="492.0" y="220.41" width="17.27" height="17.25" fill="#88bae0"/><rect x="508.97" y="220.41" width="17.27" height="17.25" fill="#b4d8ec"/><rect x="525.93" y="220.41" width="17.27" height="17.25" fill="#b8dcec"/><rect x="542.9" y="220.41" width="17.27" height="17.25" fill="#bce0ee"/><rect x="559.86" y="220.41" width="17.27" height="17.25" fill="#c4e4f0"/><rect x="576.83" y="220.41" width="17.27" height="17.25" fill="#c0e4f0"/><rect x="593.79" y="220.41" width="17.27" height="17.25" fill="#bce2ee"/><rect x="610.76" y="220.41" width="17.27" height="17.25" fill="#b4dcec"/><rect x="627.72" y="220.41" width="17.27" height="17.25" fill="#b0d8ea"/><rect x="644.69" y="220.41" width="17.27" height="17.25" fill="#b8dcec"/><rect x="661.66" y="220.41" width="17.27" height="17.25" fill="#b4d8ea"/><rect x="678.62" y="220.41" width="17.27" height="17.25" fill="#bcdcec"/><rect x="695.59" y="220.41" width="17.27" height="17.25" fill="#c0dcec"/><rect x="712.55" y="220.41" width="17.27" height="17.25" fill="#c4deec"/><rect x="729.52" y="220.41" width="17.27" height="17.25" fill="#c0dcec"/><rect x="746.48" y="220.41" width="17.27" height="17.25" fill="#b8d8ea"/><rect x="763.45" y="220.41" width="17.27" height="17.25" fill="#a4d0ea"/><rect x="780.41" y="220.41" width="17.27" height="17.25" fill="#84bae0"/><rect x="797.38" y="220.41" width="17.27" height="17.25" fill="#78aedc"/><rect x="814.34" y="220.41" width="17.27" height="17.25" fill="#74aada"/><rect x="831.31" y="220.41" width="17.27" height="17.25" fill="#70a6d8"/><rect x="848.28" y="220.41" width="17.27" height="17.25" fill="#70a4d8"/><rect x="865.24" y="220.41" width="17.27" height="17.25" fill="#72a6d8"/><rect x="882.21" y="220.41" width="17.27" height="17.25" fill="#78acda"/><rect x="899.17" y="220.41" width="17.27" height="17.25" fill="#80b4de"/><rect x="916.14" y="220.41" width="17.27" height="17.25" fill="#84b6de"/><rect x="933.1" y="220.41" width="17.27" height="17.25" fill="#84b8de"/><rect x="950.07" y="220.41" width="34.23" height="17.25" fill="#84bae0"/><rect x="0.0" y="237.36" width="17.27" height="17.25" fill="#74aeda"/><rect x="16.97" y="237.36" width="17.27" height="17.25" fill="#78aeda"/><rect x="33.93" y="237.36" width="17.27" height="17.25" fill="#7cb2dc"/><rect x="50.9" y="237.36" width="17.27" height="17.25" fill="#88b8de"/><rect x="67.86" y="237.36" width="17.27" height="17.25" fill="#94c0e2"/><rect x="84.83" y="237.36" width="17.27" height="17.25" fill="#a4cae6"/><rect x="101.79" y="237.36" width="17.27" height="17.25" fill="#acd0e8"/><rect x="118.76" y="237.36" width="17.27" height="17.25" fill="#b0d2e8"/><rect x="135.72" y="237.36" width="34.23" height="17.25" fill="#b0d4e8"/><rect x="169.66" y="237.36" width="17.27" height="17.25" fill="#acd2e8"/><rect x="186.62" y="237.36" width="17.27" height="17.25" fill="#a4cce6"/><rect x="203.59" y="237.36" width="17.27" height="17.25" fill="#98c8e4"/><rect x="220.55" y="237.36" width="17.27" height="17.25" fill="#80b6de"/><rect x="237.52" y="237.36" width="17.27" height="17.25" fill="#7cb2dc"/><rect x="254.48" y="237.36" width="17.27" height="17.25" fill="#74aada"/><rect x="271.45" y="237.36" width="17.27" height="17.25" fill="#74acda"/><rect x="288.41" y="237.36" width="34.23" height="17.25" fill="#74aada"/><rect x="322.34" y="237.36" width="17.27" height="17.25" fill="#74acda"/><rect x="339.31" y="237.36" width="17.27" height="17.25" fill="#78aeda"/><rect x="356.28" y="237.36" width="17.27" height="17.25" fill="#7cb4dc"/><rect x="373.24" y="237.36" width="17.27" height="17.25" fill="#84bae0"/><rect x="390.21" y="237.36" width="34.23" height="17.25" fill="#88bce0"/><rect x="424.14" y="237.36" width="17.27" height="17.25" fill="#88bae0"/><rect x="441.1" y="237.36" width="34.23" height="17.25" fill="#7cb0dc"/><rect x="475.03" y="237.36" width="17.27" height="17.25" fill="#80b2dc"/><rect x="492.0" y="237.36" width="17.27" height="17.25" fill="#84b6de"/><rect x="508.97" y="237.36" width="17.27" height="17.25" fill="#94c4e4"/><rect x="525.93" y="237.36" width="17.27" height="17.25" fill="#9cc8e6"/><rect x="542.9" y="237.36" width="17.27" height="17.25" fill="#a4cee8"/><rect x="559.86" y="237.36" width="17.27" height="17.25" fill="#a8d2ea"/><rect x="576.83" y="237.36" width="17.27" height="17.25" fill="#a4d0ea"/><rect x="593.79" y="237.36" width="17.27" height="17.25" fill="#9ccae6"/><rect x="610.76" y="237.36" width="17.27" height="17.25" fill="#90c0e2"/><rect x="627.72" y="237.36" width="17.27" height="17.25" fill="#8cbce0"/><rect x="644.69" y="237.36" width="17.27" height="17.25" fill="#90c0e2"/><rect x="661.66" y="237.36" width="17.27" height="17.25" fill="#94c2e2"/><rect x="678.62" y="237.36" width="17.27" height="17.25" fill="#a0c8e6"/><rect x="695.59" y="237.36" width="17.27" height="17.25" fill="#a8cce8"/><rect x="712.55" y="237.36" width="17.27" height="17.25" fill="#a8cee8"/><rect x="729.52" y="237.36" width="17.27" height="17.25" fill="#acd0ea"/><rect x="746.48" y="237.36" width="17.27" height="17.25" fill="#a8d0ea"/><rect x="763.45" y="237.36" width="17.27" height="17.25" fill="#98cce8"/><rect x="780.41" y="237.36" width="17.27" height="17.25" fill="#80b8e0"/><rect x="797.38" y="237.36" width="17.27" height="17.25" fill="#78aedc"/><rect x="814.34" y="237.36" width="17.27" height="17.25" fill="#74a8da"/><rect x="831.31" y="237.36" width="17.27" height="17.25" fill="#70a4d8"/><rect x="848.28" y="237.36" width="34.23" height="17.25" fill="#70a2d8"/><rect x="882.21" y="237.36" width="17.27" height="17.25" fill="#72a6d8"/><rect x="899.17" y="237.36" width="17.27" height="17.25" fill="#74aada"/><rect x="916.14" y="237.36" width="17.27" height="17.25" fill="#78acda"/><rect x="933.1" y="237.36" width="17.27" height="17.25" fill="#7caedc"/><rect x="950.07" y="237.36" width="17.27" height="17.25" fill="#78acda"/><rect x="967.03" y="237.36" width="17.27" height="17.25" fill="#78aedc"/><rect x="0.0" y="254.32" width="17.27" height="17.25" fill="#70aada"/><rect x="16.97" y="254.32" width="17.27" height="17.25" fill="#74acda"/><rect x="33.93" y="254.32" width="17.27" height="17.25" fill="#74aeda"/><rect x="50.9" y="254.32" width="17.27" height="17.25" fill="#78aeda"/><rect x="67.86" y="254.32" width="17.27" height="17.25" fill="#7cb0dc"/><rect x="84.83" y="254.32" width="17.27" height="17.25" fill="#84b4dc"/><rect x="101.79" y="254.32" width="17.27" height="17.25" fill="#84b6de"/><rect x="118.76" y="254.32" width="17.27" height="17.25" fill="#88b8de"/><rect x="135.72" y="254.32" width="17.27" height="17.25" fill="#88bade"/><rect x="152.69" y="254.32" width="17.27" height="17.25" fill="#8cbcde"/><rect x="169.66" y="254.32" width="17.27" height="17.25" fill="#94c4e2"/><rect x="186.62" y="254.32" width="17.27" height="17.25" fill="#98c8e4"/><rect x="203.59" y="254.32" width="17.27" height="17.25" fill="#90c2e2"/><rect x="220.55" y="254.32" width="17.27" height="17.25" fill="#7cb4dc"/><rect x="237.52" y="254.32" width="17.27" height="17.25" fill="#78aeda"/><rect x="254.48" y="254.32" width="17.27" height="17.25" fill="#74acda"/><rect x="271.45" y="254.32" width="17.27" height="17.25" fill="#78aedc"/><rect x="288.41" y="254.32" width="17.27" height="17.25" fill="#78aeda"/><rect x="305.38" y="254.32" width="34.23" height="17.25" fill="#74acda"/><rect x="339.31" y="254.32" width="17.27" height="17.25" fill="#74aeda"/><rect x="356.28" y="254.32" width="17.27" height="17.25" fill="#78b0dc"/><rect x="373.24" y="254.32" width="34.23" height="17.25" fill="#7cb0dc"/><rect x="407.17" y="254.32" width="17.27" height="17.25" fill="#80b0dc"/><rect x="424.14" y="254.32" width="17.27" height="17.25" fill="#7caeda"/><rect x="441.1" y="254.32" width="17.27" height="17.25" fill="#78acda"/><rect x="458.07" y="254.32" width="34.23" height="17.25" fill="#78aeda"/><rect x="492.0" y="254.32" width="17.27" height="17.25" fill="#7cb0dc"/><rect x="508.97" y="254.32" width="17.27" height="17.25" fill="#80b8e0"/><rect x="525.93" y="254.32" width="17.27" height="17.25" fill="#88bee2"/><rect x="542.9" y="254.32" width="17.27" height="17.25" fill="#8cc0e2"/><rect x="559.86" y="254.32" width="34.23" height="17.25" fill="#8cc2e4"/><rect x="593.79" y="254.32" width="17.27" height="17.25" fill="#88bce2"/><rect x="610.76" y="254.32" width="17.27" height="17.25" fill="#7cb0dc"/><rect x="627.72" y="254.32" width="17.27" height="17.25" fill="#78acda"/><rect x="644.69" y="254.32" width="17.27" height="17.25" fill="#78aeda"/><rect x="661.66" y="254.32" width="17.27" height="17.25" fill="#7cb0dc"/><rect x="678.62" y="254.32" width="17.27" height="17.25" fill="#88bae0"/><rect x="695.59" y="254.32" width="17.27" height="17.25" fill="#94c2e2"/><rect x="712.55" y="254.32" width="17.27" height="17.25" fill="#98c6e4"/><rect x="729.52" y="254.32" width="34.23" height="17.25" fill="#a0cce6"/><rect x="763.45" y="254.32" width="17.27" height="17.25" fill="#88c0e4"/><rect x="780.41" y="254.32" width="17.27" height="17.25" fill="#7cb4de"/><rect x="797.38" y="254.32" width="17.27" height="17.25" fill="#74aada"/><rect x="814.34" y="254.32" width="17.27" height="17.25" fill="#72a6d8"/><rect x="831.31" y="254.32" width="17.27" height="17.25" fill="#70a4d8"/><rect x="848.28" y="254.32" width="17.27" height="17.25" fill="#6ea0d6"/><rect x="865.24" y="254.32" width="17.27" height="17.25" fill="#709ed6"/><rect x="882.21" y="254.32" width="17.27" height="17.25" fill="#70a0d6"/><rect x="899.17" y="254.32" width="17.27" height="17.25" fill="#70a2d8"/><rect x="916.14" y="254.32" width="17.27" height="17.25" fill="#72a6d8"/><rect x="933.1" y="254.32" width="17.27" height="17.25" fill="#72a8da"/><rect x="950.07" y="254.32" width="17.27" height="17.25" fill="#70a6d8"/><rect x="967.03" y="254.32" width="17.27" height="17.25" fill="#70a8da"/><rect x="0.0" y="271.27" width="17.27" height="17.25" fill="#70acdc"/><rect x="16.97" y="271.27" width="17.27" height="17.25" fill="#70aada"/><rect x="33.93" y="271.27" width="17.27" height="17.25" fill="#74aada"/><rect x="50.9" y="271.27" width="17.27" height="17.25" fill="#74a8da"/><rect x="67.86" y="271.27" width="51.20" height="17.25" fill="#78a6d8"/><rect x="118.76" y="271.27" width="17.27" height="17.25" fill="#7ca8d8"/><rect x="135.72" y="271.27" width="17.27" height="17.25" fill="#7caada"/><rect x="152.69" y="271.27" width="17.27" height="17.25" fill="#80aeda"/><rect x="169.66" y="271.27" width="17.27" height="17.25" fill="#84c0e2"/><rect x="186.62" y="271.27" width="17.27" height="17.25" fill="#88c4e2"/><rect x="203.59" y="271.27" width="17.27" height="17.25" fill="#84c0e2"/><rect x="220.55" y="271.27" width="17.27" height="17.25" fill="#78b2dc"/><rect x="237.52" y="271.27" width="17.27" height="17.25" fill="#74aeda"/><rect x="254.48" y="271.27" width="17.27" height="17.25" fill="#74acda"/><rect x="271.45" y="271.27" width="17.27" height="17.25" fill="#78b0de"/><rect x="288.41" y="271.27" width="17.27" height="17.25" fill="#78b0dc"/><rect x="305.38" y="271.27" width="17.27" height="17.25" fill="#74aeda"/><rect x="322.34" y="271.27" width="34.23" height="17.25" fill="#70aada"/><rect x="356.28" y="271.27" width="17.27" height="17.25" fill="#74aada"/><rect x="373.24" y="271.27" width="17.27" height="17.25" fill="#74a8da"/><rect x="390.21" y="271.27" width="17.27" height="17.25" fill="#78aada"/><rect x="407.17" y="271.27" width="17.27" height="17.25" fill="#78acda"/><rect x="424.14" y="271.27" width="17.27" height="17.25" fill="#78aada"/><rect x="441.1" y="271.27" width="34.23" height="17.25" fill="#74aada"/><rect x="475.03" y="271.27" width="34.23" height="17.25" fill="#72a8da"/><rect x="508.97" y="271.27" width="17.27" height="17.25" fill="#78aedc"/><rect x="525.93" y="271.27" width="17.27" height="17.25" fill="#7cb2de"/><rect x="542.9" y="271.27" width="17.27" height="17.25" fill="#80b4de"/><rect x="559.86" y="271.27" width="17.27" height="17.25" fill="#80b6de"/><rect x="576.83" y="271.27" width="17.27" height="17.25" fill="#80b4de"/><rect x="593.79" y="271.27" width="17.27" height="17.25" fill="#7cb0dc"/><rect x="610.76" y="271.27" width="17.27" height="17.25" fill="#74a8da"/><rect x="627.72" y="271.27" width="17.27" height="17.25" fill="#74a6d8"/><rect x="644.69" y="271.27" width="17.27" height="17.25" fill="#74a8da"/><rect x="661.66" y="271.27" width="17.27" height="17.25" fill="#74aada"/><rect x="678.62" y="271.27" width="17.27" height="17.25" fill="#78aeda"/><rect x="695.59" y="271.27" width="17.27" height="17.25" fill="#7cb2dc"/><rect x="712.55" y="271.27" width="17.27" height="17.25" fill="#80b4dc"/><rect x="729.52" y="271.27" width="17.27" height="17.25" fill="#84b6de"/><rect x="746.48" y="271.27" width="17.27" height="17.25" fill="#84b8de"/><rect x="763.45" y="271.27" width="17.27" height="17.25" fill="#7cb4de"/><rect x="780.41" y="271.27" width="17.27" height="17.25" fill="#78aedc"/><rect x="797.38" y="271.27" width="17.27" height="17.25" fill="#74aada"/><rect x="814.34" y="271.27" width="17.27" height="17.25" fill="#70a6d8"/><rect x="831.31" y="271.27" width="17.27" height="17.25" fill="#6ea2d8"/><rect x="848.28" y="271.27" width="17.27" height="17.25" fill="#6ea0d6"/><rect x="865.24" y="271.27" width="17.27" height="17.25" fill="#6e9ed6"/><rect x="882.21" y="271.27" width="17.27" height="17.25" fill="#6e9cd6"/><rect x="899.17" y="271.27" width="17.27" height="17.25" fill="#6e9ed6"/><rect x="916.14" y="271.27" width="17.27" height="17.25" fill="#6ea0d6"/><rect x="933.1" y="271.27" width="17.27" height="17.25" fill="#70a2d8"/><rect x="950.07" y="271.27" width="17.27" height="17.25" fill="#6ea4d8"/><rect x="967.03" y="271.27" width="17.27" height="17.25" fill="#6ca6d8"/><rect x="0.0" y="288.23" width="17.27" height="17.25" fill="#6caede"/><rect x="16.97" y="288.23" width="17.27" height="17.25" fill="#70acdc"/><rect x="33.93" y="288.23" width="17.27" height="17.25" fill="#70a8da"/><rect x="50.9" y="288.23" width="17.27" height="17.25" fill="#70a4d8"/><rect x="67.86" y="288.23" width="34.23" height="17.25" fill="#70a2d8"/><rect x="101.79" y="288.23" width="17.27" height="17.25" fill="#74a2d8"/><rect x="118.76" y="288.23" width="17.27" height="17.25" fill="#74a4d8"/><rect x="135.72" y="288.23" width="17.27" height="17.25" fill="#74a6d8"/><rect x="152.69" y="288.23" width="17.27" height="17.25" fill="#78aada"/><rect x="169.66" y="288.23" width="51.20" height="17.25" fill="#80bee0"/><rect x="220.55" y="288.23" width="17.27" height="17.25" fill="#78b4dc"/><rect x="237.52" y="288.23" width="17.27" height="17.25" fill="#74aeda"/><rect x="254.48" y="288.23" width="17.27" height="17.25" fill="#72aada"/><rect x="271.45" y="288.23" width="34.23" height="17.25" fill="#74aedc"/><rect x="305.38" y="288.23" width="17.27" height="17.25" fill="#72aada"/><rect x="322.34" y="288.23" width="17.27" height="17.25" fill="#70a8da"/><rect x="339.31" y="288.23" width="17.27" height="17.25" fill="#6ea6d8"/><rect x="356.28" y="288.23" width="17.27" height="17.25" fill="#6ea4d8"/><rect x="373.24" y="288.23" width="17.27" height="17.25" fill="#70a4d8"/><rect x="390.21" y="288.23" width="17.27" height="17.25" fill="#72a6d8"/><rect x="407.17" y="288.23" width="51.20" height="17.25" fill="#74a8da"/><rect x="458.07" y="288.23" width="17.27" height="17.25" fill="#72a6d8"/><rect x="475.03" y="288.23" width="17.27" height="17.25" fill="#70a4d8"/><rect x="492.0" y="288.23" width="17.27" height="17.25" fill="#6ea2d8"/><rect x="508.97" y="288.23" width="17.27" height="17.25" fill="#70a6da"/><rect x="525.93" y="288.23" width="17.27" height="17.25" fill="#74a8da"/><rect x="542.9" y="288.23" width="17.27" height="17.25" fill="#78aada"/><rect x="559.86" y="288.23" width="34.23" height="17.25" fill="#78acda"/><rect x="593.79" y="288.23" width="17.27" height="17.25" fill="#74aada"/><rect x="610.76" y="288.23" width="17.27" height="17.25" fill="#70a6d8"/><rect x="627.72" y="288.23" width="34.23" height="17.25" fill="#70a4d8"/><rect x="661.66" y="288.23" width="17.27" height="17.25" fill="#72a6d8"/><rect x="678.62" y="288.23" width="17.27" height="17.25" fill="#74aada"/><rect x="695.59" y="288.23" width="34.23" height="17.25" fill="#74acda"/><rect x="729.52" y="288.23" width="34.23" height="17.25" fill="#78aeda"/><rect x="763.45" y="288.23" width="17.27" height="17.25" fill="#74aada"/><rect x="780.41" y="288.23" width="17.27" height="17.25" fill="#74a8da"/><rect x="797.38" y="288.23" width="17.27" height="17.25" fill="#70a6d8"/><rect x="814.34" y="288.23" width="17.27" height="17.25" fill="#6ea2d8"/><rect x="831.31" y="288.23" width="17.27" height="17.25" fill="#6ca0d6"/><rect x="848.28" y="288.23" width="17.27" height="17.25" fill="#6c9ed6"/><rect x="865.24" y="288.23" width="51.20" height="17.25" fill="#6e9cd6"/><rect x="916.14" y="288.23" width="17.27" height="17.25" fill="#6c9ed6"/><rect x="933.1" y="288.23" width="17.27" height="17.25" fill="#6ea0d6"/><rect x="950.07" y="288.23" width="17.27" height="17.25" fill="#6ca2d8"/><rect x="967.03" y="288.23" width="17.27" height="17.25" fill="#6aa4d8"/><rect x="0.0" y="305.18" width="17.27" height="17.25" fill="#6caee0"/><rect x="16.97" y="305.18" width="17.27" height="17.25" fill="#6cacdc"/><rect x="33.93" y="305.18" width="17.27" height="17.25" fill="#6ea8da"/><rect x="50.9" y="305.18" width="17.27" height="17.25" fill="#6ea4d8"/><rect x="67.86" y="305.18" width="17.27" height="17.25" fill="#6ea0d6"/><rect x="84.83" y="305.18" width="34.23" height="17.25" fill="#70a0d6"/><rect x="118.76" y="305.18" width="17.27" height="17.25" fill="#70a2d8"/><rect x="135.72" y="305.18" width="17.27" height="17.25" fill="#72a4d8"/><rect x="152.69" y="305.18" width="17.27" height="17.25" fill="#74a8da"/><rect x="169.66" y="305.18" width="17.27" height="17.25" fill="#74b2de"/><rect x="186.62" y="305.18" width="17.27" height="17.25" fill="#78b4de"/><rect x="203.59" y="305.18" width="17.27" height="17.25" fill="#78b2dc"/><rect x="220.55" y="305.18" width="17.27" height="17.25" fill="#74aeda"/><rect x="237.52" y="305.18" width="17.27" height="17.25" fill="#74acda"/><rect x="254.48" y="305.18" width="17.27" height="17.25" fill="#70a8da"/><rect x="271.45" y="305.18" width="17.27" height="17.25" fill="#72aada"/><rect x="288.41" y="305.18" width="17.27" height="17.25" fill="#70aada"/><rect x="305.38" y="305.18" width="17.27" height="17.25" fill="#70a8da"/><rect x="322.34" y="305.18" width="17.27" height="17.25" fill="#6ea6d8"/><rect x="339.31" y="305.18" width="17.27" height="17.25" fill="#6ca4d8"/><rect x="356.28" y="305.18" width="34.23" height="17.25" fill="#6ca2d8"/><rect x="390.21" y="305.18" width="17.27" height="17.25" fill="#6ea2d8"/><rect x="407.17" y="305.18" width="17.27" height="17.25" fill="#70a4d8"/><rect x="424.14" y="305.18" width="34.23" height="17.25" fill="#72a4d8"/><rect x="458.07" y="305.18" width="17.27" height="17.25" fill="#70a4d8"/><rect x="475.03" y="305.18" width="17.27" height="17.25" fill="#6ea2d8"/><rect x="492.0" y="305.18" width="17.27" height="17.25" fill="#6ca0d6"/><rect x="508.97" y="305.18" width="17.27" height="17.25" fill="#6ca2d8"/><rect x="525.93" y="305.18" width="17.27" height="17.25" fill="#6ea4d8"/><rect x="542.9" y="305.18" width="17.27" height="17.25" fill="#70a6d8"/><rect x="559.86" y="305.18" width="34.23" height="17.25" fill="#72a8da"/><rect x="593.79" y="305.18" width="17.27" height="17.25" fill="#70a6d8"/><rect x="610.76" y="305.18" width="51.20" height="17.25" fill="#6ea4d8"/><rect x="661.66" y="305.18" width="17.27" height="17.25" fill="#70a4d8"/><rect x="678.62" y="305.18" width="17.27" height="17.25" fill="#70a6d8"/><rect x="695.59" y="305.18" width="34.23" height="17.25" fill="#6ea6d8"/><rect x="729.52" y="305.18" width="17.27" height="17.25" fill="#70a8da"/><rect x="746.48" y="305.18" width="17.27" height="17.25" fill="#72a8da"/><rect x="763.45" y="305.18" width="17.27" height="17.25" fill="#70a6d8"/><rect x="780.41" y="305.18" width="17.27" height="17.25" fill="#6ea4d8"/><rect x="797.38" y="305.18" width="17.27" height="17.25" fill="#6ca2d8"/><rect x="814.34" y="305.18" width="17.27" height="17.25" fill="#6ca0d6"/><rect x="831.31" y="305.18" width="34.23" height="17.25" fill="#6c9ed6"/><rect x="865.24" y="305.18" width="34.23" height="17.25" fill="#6e9ad6"/><rect x="899.17" y="305.18" width="17.27" height="17.25" fill="#6e9cd6"/><rect x="916.14" y="305.18" width="17.27" height="17.25" fill="#6c9cd6"/><rect x="933.1" y="305.18" width="17.27" height="17.25" fill="#6c9ed6"/><rect x="950.07" y="305.18" width="17.27" height="17.25" fill="#6aa0d6"/><rect x="967.03" y="305.18" width="17.27" height="17.25" fill="#6aa2d6"/><rect x="0.0" y="322.14" width="17.27" height="17.25" fill="#6ab0e0"/><rect x="16.97" y="322.14" width="17.27" height="17.25" fill="#6cacde"/><rect x="33.93" y="322.14" width="17.27" height="17.25" fill="#6ca8da"/><rect x="50.9" y="322.14" width="17.27" height="17.25" fill="#6ca4d8"/><rect x="67.86" y="322.14" width="17.27" height="17.25" fill="#6ca0d6"/><rect x="84.83" y="322.14" width="34.23" height="17.25" fill="#6e9ed6"/><rect x="118.76" y="322.14" width="17.27" height="17.25" fill="#70a0d6"/><rect x="135.72" y="322.14" width="17.27" height="17.25" fill="#70a2d8"/><rect x="152.69" y="322.14" width="17.27" height="17.25" fill="#70a4d8"/><rect x="169.66" y="322.14" width="17.27" height="17.25" fill="#70a8da"/><rect x="186.62" y="322.14" width="34.23" height="17.25" fill="#72aada"/><rect x="220.55" y="322.14" width="34.23" height="17.25" fill="#74aada"/><rect x="254.48" y="322.14" width="51.20" height="17.25" fill="#6ea6d8"/><rect x="305.38" y="322.14" width="17.27" height="17.25" fill="#6ea4d8"/><rect x="322.34" y="322.14" width="17.27" height="17.25" fill="#6ca4d8"/><rect x="339.31" y="322.14" width="17.27" height="17.25" fill="#6ca2d8"/><rect x="356.28" y="322.14" width="34.23" height="17.25" fill="#6aa0d6"/><rect x="390.21" y="322.14" width="17.27" height="17.25" fill="#6e9ed6"/><rect x="407.17" y="322.14" width="68.16" height="17.25" fill="#709ed6"/><rect x="475.03" y="322.14" width="17.27" height="17.25" fill="#6ea0d6"/><rect x="492.0" y="322.14" width="17.27" height="17.25" fill="#6ca0d6"/><rect x="508.97" y="322.14" width="17.27" height="17.25" fill="#6a9ed6"/><rect x="525.93" y="322.14" width="17.27" height="17.25" fill="#6ca0d6"/><rect x="542.9" y="322.14" width="17.27" height="17.25" fill="#6ea2d8"/><rect x="559.86" y="322.14" width="17.27" height="17.25" fill="#70a4d8"/><rect x="576.83" y="322.14" width="17.27" height="17.25" fill="#70a6d8"/><rect x="593.79" y="322.14" width="17.27" height="17.25" fill="#6ea4d8"/><rect x="610.76" y="322.14" width="34.23" height="17.25" fill="#6ca4d8"/><rect x="644.69" y="322.14" width="17.27" height="17.25" fill="#6ea4d8"/><rect x="661.66" y="322.14" width="17.27" height="17.25" fill="#6e9ed6"/><rect x="678.62" y="322.14" width="17.27" height="17.25" fill="#6e9ad6"/><rect x="695.59" y="322.14" width="17.27" height="17.25" fill="#6e9cd6"/><rect x="712.55" y="322.14" width="34.23" height="17.25" fill="#6ca0d6"/><rect x="746.48" y="322.14" width="17.27" height="17.25" fill="#6ea2d8"/><rect x="763.45" y="322.14" width="17.27" height="17.25" fill="#6ca4d8"/><rect x="780.41" y="322.14" width="17.27" height="17.25" fill="#6ca2d8"/><rect x="797.38" y="322.14" width="17.27" height="17.25" fill="#6ca0d6"/><rect x="814.34" y="322.14" width="17.27" height="17.25" fill="#6c9ed6"/><rect x="831.31" y="322.14" width="17.27" height="17.25" fill="#6c9cd6"/><rect x="848.28" y="322.14" width="68.16" height="17.25" fill="#6e9ad6"/><rect x="916.14" y="322.14" width="17.27" height="17.25" fill="#6c9cd6"/><rect x="933.1" y="322.14" width="17.27" height="17.25" fill="#6a9ed6"/><rect x="950.07" y="322.14" width="34.23" height="17.25" fill="#6aa0d6"/><rect x="0.0" y="339.09" width="17.27" height="17.25" fill="#6ab2e2"/><rect x="16.97" y="339.09" width="17.27" height="17.25" fill="#6aaede"/><rect x="33.93" y="339.09" width="17.27" height="17.25" fill="#6caada"/><rect x="50.9" y="339.09" width="17.27" height="17.25" fill="#6ca4d8"/><rect x="67.86" y="339.09" width="17.27" height="17.25" fill="#6ea0d6"/><rect x="84.83" y="339.09" width="17.27" height="17.25" fill="#6e9ed6"/><rect x="101.79" y="339.09" width="34.23" height="17.25" fill="#709ed6"/><rect x="135.72" y="339.09" width="17.27" height="17.25" fill="#70a0d6"/><rect x="152.69" y="339.09" width="17.27" height="17.25" fill="#70a2d8"/><rect x="169.66" y="339.09" width="17.27" height="17.25" fill="#70a4d8"/><rect x="186.62" y="339.09" width="17.27" height="17.25" fill="#70a6d8"/><rect x="203.59" y="339.09" width="34.23" height="17.25" fill="#72a6d8"/><rect x="237.52" y="339.09" width="17.27" height="17.25" fill="#74a6d8"/><rect x="254.48" y="339.09" width="68.16" height="17.25" fill="#6ca4d8"/><rect x="322.34" y="339.09" width="17.27" height="17.25" fill="#6ca2d8"/><rect x="339.31" y="339.09" width="34.23" height="17.25" fill="#6aa0d6"/><rect x="373.24" y="339.09" width="17.27" height="17.25" fill="#6a9ed6"/><rect x="390.21" y="339.09" width="17.27" height="17.25" fill="#6c9cd6"/><rect x="407.17" y="339.09" width="17.27" height="17.25" fill="#6e9cd6"/><rect x="424.14" y="339.09" width="34.23" height="17.25" fill="#709cd6"/><rect x="458.07" y="339.09" width="17.27" height="17.25" fill="#6e9ed6"/><rect x="475.03" y="339.09" width="17.27" height="17.25" fill="#6ca0d6"/><rect x="492.0" y="339.09" width="17.27" height="17.25" fill="#6aa0d6"/><rect x="508.97" y="339.09" width="17.27" height="17.25" fill="#6c9cd6"/><rect x="525.93" y="339.09" width="17.27" height="17.25" fill="#6a9cd6"/><rect x="542.9" y="339.09" width="17.27" height="17.25" fill="#6ca0d6"/><rect x="559.86" y="339.09" width="17.27" height="17.25" fill="#6ea2d8"/><rect x="576.83" y="339.09" width="34.23" height="17.25" fill="#6ea4d8"/><rect x="610.76" y="339.09" width="17.27" height="17.25" fill="#6ca4d8"/><rect x="627.72" y="339.09" width="17.27" height="17.25" fill="#6ca2d8"/><rect x="644.69" y="339.09" width="17.27" height="17.25" fill="#6ea0d6"/><rect x="661.66" y="339.09" width="17.27" height="17.25" fill="#6e9cd6"/><rect x="678.62" y="339.09" width="17.27" height="17.25" fill="#6e98d6"/><rect x="695.59" y="339.09" width="17.27" height="17.25" fill="#6e9ad6"/><rect x="712.55" y="339.09" width="17.27" height="17.25" fill="#6c9ed6"/><rect x="729.52" y="339.09" width="34.23" height="17.25" fill="#6ca0d6"/><rect x="763.45" y="339.09" width="17.27" height="17.25" fill="#6ca4d8"/><rect x="780.41" y="339.09" width="17.27" height="17.25" fill="#6ca0d6"/><rect x="797.38" y="339.09" width="17.27" height="17.25" fill="#6c9ed6"/><rect x="814.34" y="339.09" width="17.27" height="17.25" fill="#6c9cd6"/><rect x="831.31" y="339.09" width="17.27" height="17.25" fill="#6c9ad6"/><rect x="848.28" y="339.09" width="17.27" height="17.25" fill="#6e9ad6"/><rect x="865.24" y="339.09" width="34.23" height="17.25" fill="#6e98d4"/><rect x="899.17" y="339.09" width="17.27" height="17.25" fill="#6c9ad6"/><rect x="916.14" y="339.09" width="17.27" height="17.25" fill="#6c9cd6"/><rect x="933.1" y="339.09" width="17.27" height="17.25" fill="#6a9cd6"/><rect x="950.07" y="339.09" width="17.27" height="17.25" fill="#6a9ed6"/><rect x="967.03" y="339.09" width="17.27" height="17.25" fill="#6aa0d6"/><rect x="0.0" y="356.05" width="17.27" height="17.25" fill="#6ab2e2"/><rect x="16.97" y="356.05" width="17.27" height="17.25" fill="#6caede"/><rect x="33.93" y="356.05" width="17.27" height="17.25" fill="#6caada"/><rect x="50.9" y="356.05" width="17.27" height="17.25" fill="#6ca4d8"/><rect x="67.86" y="356.05" width="17.27" height="17.25" fill="#6ca0d6"/><rect x="84.83" y="356.05" width="17.27" height="17.25" fill="#6e9ed6"/><rect x="101.79" y="356.05" width="17.27" height="17.25" fill="#709ed6"/><rect x="118.76" y="356.05" width="17.27" height="17.25" fill="#709cd6"/><rect x="135.72" y="356.05" width="17.27" height="17.25" fill="#709ed6"/><rect x="152.69" y="356.05" width="17.27" height="17.25" fill="#70a0d6"/><rect x="169.66" y="356.05" width="17.27" height="17.25" fill="#70a2d8"/><rect x="186.62" y="356.05" width="17.27" height="17.25" fill="#72a2d8"/><rect x="203.59" y="356.05" width="17.27" height="17.25" fill="#72a0d6"/><rect x="220.55" y="356.05" width="17.27" height="17.25" fill="#72a2d8"/><rect x="237.52" y="356.05" width="17.27" height="17.25" fill="#72a4d8"/><rect x="254.48" y="356.05" width="34.23" height="17.25" fill="#6ca4d8"/><rect x="288.41" y="356.05" width="34.23" height="17.25" fill="#6ca2d8"/><rect x="322.34" y="356.05" width="17.27" height="17.25" fill="#6ca0d6"/><rect x="339.31" y="356.05" width="34.23" height="17.25" fill="#6aa0d6"/><rect x="373.24" y="356.05" width="17.27" height="17.25" fill="#6a9ed6"/><rect x="390.21" y="356.05" width="17.27" height="17.25" fill="#6c9ed6"/><rect x="407.17" y="356.05" width="17.27" height="17.25" fill="#6e9ed6"/><rect x="424.14" y="356.05" width="17.27" height="17.25" fill="#709ed6"/><rect x="441.1" y="356.05" width="17.27" height="17.25" fill="#6e9ed6"/><rect x="458.07" y="356.05" width="17.27" height="17.25" fill="#6ca0d6"/><rect x="475.03" y="356.05" width="34.23" height="17.25" fill="#6aa0d6"/><rect x="508.97" y="356.05" width="17.27" height="17.25" fill="#6c9cd6"/><rect x="525.93" y="356.05" width="17.27" height="17.25" fill="#6a9cd6"/><rect x="542.9" y="356.05" width="17.27" height="17.25" fill="#6c9ed6"/><rect x="559.86" y="356.05" width="17.27" height="17.25" fill="#6ea2d8"/><rect x="576.83" y="356.05" width="17.27" height="17.25" fill="#6ea4d8"/><rect x="593.79" y="356.05" width="17.27" height="17.25" fill="#6ea2d8"/><rect x="610.76" y="356.05" width="17.27" height="17.25" fill="#6ca2d8"/><rect x="627.72" y="356.05" width="17.27" height="17.25" fill="#6ca0d6"/><rect x="644.69" y="356.05" width="17.27" height="17.25" fill="#6e9ed6"/><rect x="661.66" y="356.05" width="17.27" height="17.25" fill="#6e9cd6"/><rect x="678.62" y="356.05" width="34.23" height="17.25" fill="#6e9ad6"/><rect x="712.55" y="356.05" width="17.27" height="17.25" fill="#6c9ed6"/><rect x="729.52" y="356.05" width="34.23" height="17.25" fill="#6ca0d6"/><rect x="763.45" y="356.05" width="17.27" height="17.25" fill="#6ca2d8"/><rect x="780.41" y="356.05" width="17.27" height="17.25" fill="#6c9ed6"/><rect x="797.38" y="356.05" width="34.23" height="17.25" fill="#6c9cd6"/><rect x="831.31" y="356.05" width="17.27" height="17.25" fill="#6c9ad6"/><rect x="848.28" y="356.05" width="34.23" height="17.25" fill="#6e98d4"/><rect x="882.21" y="356.05" width="17.27" height="17.25" fill="#6c98d4"/><rect x="899.17" y="356.05" width="17.27" height="17.25" fill="#6c9ad6"/><rect x="916.14" y="356.05" width="17.27" height="17.25" fill="#6a9cd6"/><rect x="933.1" y="356.05" width="34.23" height="17.25" fill="#6a9ed6"/><rect x="967.03" y="356.05" width="17.27" height="17.25" fill="#68a0d8"/><g fill="#0a0a14" shape-rendering="auto"><circle cx="8.7" cy="153.4" r="1.9"/><circle cx="24.8" cy="161.1" r="1.9"/><circle cx="26.8" cy="161.1" r="1.9"/><circle cx="42.2" cy="178.2" r="1.9"/><circle cx="44.2" cy="178.2" r="1.9"/><circle cx="55.1" cy="195.4" r="1.9"/><circle cx="59.6" cy="203.3" r="1.9"/><circle cx="66.3" cy="212.3" r="1.9"/><circle cx="76.4" cy="223.4" r="1.9"/><circle cx="88.4" cy="229.4" r="1.9"/><circle cx="93.3" cy="231.4" r="1.9"/><circle cx="110.7" cy="234.4" r="1.9"/><circle cx="127.3" cy="238.3" r="1.9"/><circle cx="144.5" cy="243.3" r="1.9"/><circle cx="161.6" cy="245.3" r="1.9"/><circle cx="176.2" cy="246.3" r="1.9"/><circle cx="179.2" cy="246.3" r="1.9"/><circle cx="195.3" cy="234.4" r="1.9"/><circle cx="197.3" cy="229.4" r="1.9"/><circle cx="203.5" cy="212.3" r="1.9"/><circle cx="210.5" cy="195.4" r="1.9"/><circle cx="212.5" cy="192.4" r="1.9"/><circle cx="229.3" cy="178.2" r="1.9"/><circle cx="246.2" cy="172.5" r="1.9"/><circle cx="263.3" cy="165.3" r="1.9"/><circle cx="274.5" cy="161.4" r="1.9"/><circle cx="280.5" cy="158.4" r="1.9"/><circle cx="297.3" cy="157.4" r="1.9"/><circle cx="310.2" cy="161.4" r="1.9"/><circle cx="314.5" cy="163.3" r="1.9"/><circle cx="331.3" cy="173.3" r="1.9"/><circle cx="339.1" cy="178.2" r="1.9"/><circle cx="348.4" cy="185.2" r="1.9"/><circle cx="361.3" cy="195.1" r="1.9"/><circle cx="365.3" cy="197.1" r="1.9"/><circle cx="382.4" cy="208.3" r="1.9"/><circle cx="395.6" cy="212.3" r="1.9"/><circle cx="399.1" cy="213.3" r="1.9"/><circle cx="416.4" cy="213.3" r="1.9"/><circle cx="421.4" cy="212.3" r="1.9"/><circle cx="433.3" cy="209.3" r="1.9"/><circle cx="448.2" cy="195.1" r="1.9"/><circle cx="450.7" cy="194.1" r="1.9"/><circle cx="467.3" cy="188.4" r="1.9"/><circle cx="481.2" cy="195.1" r="1.9"/><circle cx="484.2" cy="197.1" r="1.9"/><circle cx="500.6" cy="210.3" r="1.9"/><circle cx="503.6" cy="212.3" r="1.9"/><circle cx="517.2" cy="227.4" r="1.9"/><circle cx="521.7" cy="229.4" r="1.9"/><circle cx="534.3" cy="234.4" r="1.9"/><circle cx="551.5" cy="237.3" r="1.9"/><circle cx="568.6" cy="239.3" r="1.9"/><circle cx="585.5" cy="238.3" r="1.9"/><circle cx="602.3" cy="232.4" r="1.9"/><circle cx="606.3" cy="229.4" r="1.9"/><circle cx="619.5" cy="217.2" r="1.9"/><circle cx="636.3" cy="212.3" r="1.9"/><circle cx="637.3" cy="212.3" r="1.9"/><circle cx="653.5" cy="213.3" r="1.9"/><circle cx="670.3" cy="218.2" r="1.9"/><circle cx="687.1" cy="228.3" r="1.9"/><circle cx="688.4" cy="229.2" r="1.9"/><circle cx="704.5" cy="239.1" r="1.9"/><circle cx="715.6" cy="246.4" r="1.9"/><circle cx="721.4" cy="249.3" r="1.9"/><circle cx="738.6" cy="255.4" r="1.9"/><circle cx="755.4" cy="262.7" r="1.9"/><circle cx="772.4" cy="251.4" r="1.9"/><circle cx="774.4" cy="246.4" r="1.9"/><circle cx="776.4" cy="229.4" r="1.9"/><circle cx="777.6" cy="212.4" r="1.9"/><circle cx="780.5" cy="195.2" r="1.9"/><circle cx="789.3" cy="181.2" r="1.9"/><circle cx="792.5" cy="178.3" r="1.9"/><circle cx="806.5" cy="168.3" r="1.9"/><circle cx="817.4" cy="161.3" r="1.9"/><circle cx="823.3" cy="157.2" r="1.9"/><circle cx="840.5" cy="153.4" r="1.9"/><circle cx="857.5" cy="155.4" r="1.9"/><circle cx="869.4" cy="161.3" r="1.9"/><circle cx="874.4" cy="164.2" r="1.9"/><circle cx="891.2" cy="177.1" r="1.9"/><circle cx="894.6" cy="178.3" r="1.9"/><circle cx="908.1" cy="183.2" r="1.9"/><circle cx="925.6" cy="187.3" r="1.9"/><circle cx="942.3" cy="184.4" r="1.9"/><circle cx="954.3" cy="178.3" r="1.9"/><circle cx="959.3" cy="176.2" r="1.9"/><circle cx="976.5" cy="171.2" r="1.9"/></g></svg><svg class="im" style="top:501px" viewBox="0 0 984 373"><rect x="0.0" y="0.0" width="68.16" height="17.25" fill="#ae5e94"/><rect x="67.86" y="0.0" width="102.09" height="17.25" fill="#b46498"/><rect x="169.66" y="0.0" width="17.27" height="17.25" fill="#ba689a"/><rect x="186.62" y="0.0" width="17.27" height="17.25" fill="#b46498"/><rect x="203.59" y="0.0" width="169.96" height="17.25" fill="#ae5e94"/><rect x="373.24" y="0.0" width="34.23" height="17.25" fill="#a6588e"/><rect x="407.17" y="0.0" width="102.09" height="17.25" fill="#ae5e94"/><rect x="508.97" y="0.0" width="102.09" height="17.25" fill="#a6588e"/><rect x="610.76" y="0.0" width="68.16" height="17.25" fill="#ae5e94"/><rect x="678.62" y="0.0" width="17.27" height="17.25" fill="#b46498"/><rect x="695.59" y="0.0" width="34.23" height="17.25" fill="#ba689a"/><rect x="729.52" y="0.0" width="34.23" height="17.25" fill="#b46498"/><rect x="763.45" y="0.0" width="220.85" height="17.25" fill="#ae5e94"/><rect x="0.0" y="16.95" width="34.23" height="17.25" fill="#ae5e94"/><rect x="33.93" y="16.95" width="34.23" height="17.25" fill="#a6588e"/><rect x="67.86" y="16.95" width="136.02" height="17.25" fill="#b46498"/><rect x="203.59" y="16.95" width="34.23" height="17.25" fill="#ae5e94"/><rect x="237.52" y="16.95" width="34.23" height="17.25" fill="#a6588e"/><rect x="271.45" y="16.95" width="85.13" height="17.25" fill="#ae5e94"/><rect x="356.28" y="16.95" width="68.16" height="17.25" fill="#a6588e"/><rect x="424.14" y="16.95" width="34.23" height="17.25" fill="#ae5e94"/><rect x="458.07" y="16.95" width="85.13" height="17.25" fill="#a6588e"/><rect x="542.9" y="16.95" width="34.23" height="17.25" fill="#a05488"/><rect x="576.83" y="16.95" width="34.23" height="17.25" fill="#a6588e"/><rect x="610.76" y="16.95" width="51.20" height="17.25" fill="#ae5e94"/><rect x="661.66" y="16.95" width="85.13" height="17.25" fill="#b46498"/><rect x="746.48" y="16.95" width="68.16" height="17.25" fill="#ae5e94"/><rect x="814.34" y="16.95" width="34.23" height="17.25" fill="#a6588e"/><rect x="848.28" y="16.95" width="119.06" height="17.25" fill="#ae5e94"/><rect x="967.03" y="16.95" width="17.27" height="17.25" fill="#a6588e"/><rect x="0.0" y="33.91" width="34.23" height="17.25" fill="#b46498"/><rect x="33.93" y="33.91" width="34.23" height="17.25" fill="#a6588e"/><rect x="67.86" y="33.91" width="17.27" height="17.25" fill="#ae5e94"/><rect x="84.83" y="33.91" width="68.16" height="17.25" fill="#b46498"/><rect x="152.69" y="33.91" width="34.23" height="17.25" fill="#ae5e94"/><rect x="186.62" y="33.91" width="17.27" height="17.25" fill="#b46498"/><rect x="203.59" y="33.91" width="34.23" height="17.25" fill="#ae5e94"/><rect x="237.52" y="33.91" width="34.23" height="17.25" fill="#a6588e"/><rect x="271.45" y="33.91" width="34.23" height="17.25" fill="#ae5e94"/><rect x="305.38" y="33.91" width="68.16" height="17.25" fill="#b46498"/><rect x="373.24" y="33.91" width="34.23" height="17.25" fill="#ae5e94"/><rect x="407.17" y="33.91" width="68.16" height="17.25" fill="#a6588e"/><rect x="475.03" y="33.91" width="17.27" height="17.25" fill="#a05488"/><rect x="492.0" y="33.91" width="51.20" height="17.25" fill="#a6588e"/><rect x="542.9" y="33.91" width="51.20" height="17.25" fill="#a05488"/><rect x="593.79" y="33.91" width="17.27" height="17.25" fill="#a6588e"/><rect x="610.76" y="33.91" width="68.16" height="17.25" fill="#ae5e94"/><rect x="678.62" y="33.91" width="68.16" height="17.25" fill="#b46498"/><rect x="746.48" y="33.91" width="34.23" height="17.25" fill="#ae5e94"/><rect x="780.41" y="33.91" width="68.16" height="17.25" fill="#a6588e"/><rect x="848.28" y="33.91" width="136.02" height="17.25" fill="#ae5e94"/><rect x="0.0" y="50.86" width="34.23" height="17.25" fill="#b46498"/><rect x="33.93" y="50.86" width="34.23" height="17.25" fill="#a6588e"/><rect x="67.86" y="50.86" width="17.27" height="17.25" fill="#ae5e94"/><rect x="84.83" y="50.86" width="51.20" height="17.25" fill="#b46498"/><rect x="135.72" y="50.86" width="102.09" height="17.25" fill="#ae5e94"/><rect x="237.52" y="50.86" width="17.27" height="17.25" fill="#a05488"/><rect x="254.48" y="50.86" width="17.27" height="17.25" fill="#a6588e"/><rect x="271.45" y="50.86" width="34.23" height="17.25" fill="#ae5e94"/><rect x="305.38" y="50.86" width="34.23" height="17.25" fill="#ba689a"/><rect x="339.31" y="50.86" width="34.23" height="17.25" fill="#b46498"/><rect x="373.24" y="50.86" width="34.23" height="17.25" fill="#ae5e94"/><rect x="407.17" y="50.86" width="68.16" height="17.25" fill="#a6588e"/><rect x="475.03" y="50.86" width="34.23" height="17.25" fill="#a05488"/><rect x="508.97" y="50.86" width="51.20" height="17.25" fill="#a6588e"/><rect x="559.86" y="50.86" width="34.23" height="17.25" fill="#a05488"/><rect x="593.79" y="50.86" width="17.27" height="17.25" fill="#a6588e"/><rect x="610.76" y="50.86" width="68.16" height="17.25" fill="#ae5e94"/><rect x="678.62" y="50.86" width="68.16" height="17.25" fill="#b46498"/><rect x="746.48" y="50.86" width="34.23" height="17.25" fill="#ae5e94"/><rect x="780.41" y="50.86" width="51.20" height="17.25" fill="#a6588e"/><rect x="831.31" y="50.86" width="17.27" height="17.25" fill="#a05488"/><rect x="848.28" y="50.86" width="17.27" height="17.25" fill="#a6588e"/><rect x="865.24" y="50.86" width="85.13" height="17.25" fill="#ae5e94"/><rect x="950.07" y="50.86" width="34.23" height="17.25" fill="#b46498"/><rect x="0.0" y="67.82" width="34.23" height="17.25" fill="#b46498"/><rect x="33.93" y="67.82" width="17.27" height="17.25" fill="#ae5e94"/><rect x="50.9" y="67.82" width="51.20" height="17.25" fill="#a6588e"/><rect x="101.79" y="67.82" width="34.23" height="17.25" fill="#b46498"/><rect x="135.72" y="67.82" width="85.13" height="17.25" fill="#ae5e94"/><rect x="220.55" y="67.82" width="34.23" height="17.25" fill="#a05488"/><rect x="254.48" y="67.82" width="17.27" height="17.25" fill="#a6588e"/><rect x="271.45" y="67.82" width="17.27" height="17.25" fill="#ae5e94"/><rect x="288.41" y="67.82" width="17.27" height="17.25" fill="#b46498"/><rect x="305.38" y="67.82" width="51.20" height="17.25" fill="#ba689a"/><rect x="356.28" y="67.82" width="17.27" height="17.25" fill="#b46498"/><rect x="373.24" y="67.82" width="34.23" height="17.25" fill="#ae5e94"/><rect x="407.17" y="67.82" width="68.16" height="17.25" fill="#a6588e"/><rect x="475.03" y="67.82" width="51.20" height="17.25" fill="#a05488"/><rect x="525.93" y="67.82" width="102.09" height="17.25" fill="#a6588e"/><rect x="627.72" y="67.82" width="68.16" height="17.25" fill="#ae5e94"/><rect x="695.59" y="67.82" width="51.20" height="17.25" fill="#b46498"/><rect x="746.48" y="67.82" width="34.23" height="17.25" fill="#ae5e94"/><rect x="780.41" y="67.82" width="34.23" height="17.25" fill="#a6588e"/><rect x="814.34" y="67.82" width="34.23" height="17.25" fill="#a05488"/><rect x="848.28" y="67.82" width="34.23" height="17.25" fill="#a6588e"/><rect x="882.21" y="67.82" width="68.16" height="17.25" fill="#ae5e94"/><rect x="950.07" y="67.82" width="34.23" height="17.25" fill="#b46498"/><rect x="0.0" y="84.77" width="34.23" height="17.25" fill="#b46498"/><rect x="33.93" y="84.77" width="17.27" height="17.25" fill="#ae5e94"/><rect x="50.9" y="84.77" width="34.23" height="17.25" fill="#a6588e"/><rect x="84.83" y="84.77" width="34.23" height="17.25" fill="#ae5e94"/><rect x="118.76" y="84.77" width="17.27" height="17.25" fill="#b46498"/><rect x="135.72" y="84.77" width="17.27" height="17.25" fill="#ae5e94"/><rect x="152.69" y="84.77" width="34.23" height="17.25" fill="#a6588e"/><rect x="186.62" y="84.77" width="51.20" height="17.25" fill="#ae5e94"/><rect x="237.52" y="84.77" width="17.27" height="17.25" fill="#a6588e"/><rect x="254.48" y="84.77" width="34.23" height="17.25" fill="#ae5e94"/><rect x="288.41" y="84.77" width="17.27" height="17.25" fill="#b46498"/><rect x="305.38" y="84.77" width="17.27" height="17.25" fill="#ba689a"/><rect x="322.34" y="84.77" width="51.20" height="17.25" fill="#b46498"/><rect x="373.24" y="84.77" width="34.23" height="17.25" fill="#ae5e94"/><rect x="407.17" y="84.77" width="51.20" height="17.25" fill="#a6588e"/><rect x="458.07" y="84.77" width="51.20" height="17.25" fill="#a05488"/><rect x="508.97" y="84.77" width="17.27" height="17.25" fill="#a6588e"/><rect x="525.93" y="84.77" width="34.23" height="17.25" fill="#ae5e94"/><rect x="559.86" y="84.77" width="85.13" height="17.25" fill="#a6588e"/><rect x="644.69" y="84.77" width="68.16" height="17.25" fill="#ae5e94"/><rect x="712.55" y="84.77" width="34.23" height="17.25" fill="#b46498"/><rect x="746.48" y="84.77" width="34.23" height="17.25" fill="#ae5e94"/><rect x="780.41" y="84.77" width="102.09" height="17.25" fill="#a6588e"/><rect x="882.21" y="84.77" width="68.16" height="17.25" fill="#ae5e94"/><rect x="950.07" y="84.77" width="34.23" height="17.25" fill="#b46498"/><rect x="0.0" y="101.73" width="34.23" height="17.25" fill="#b46498"/><rect x="33.93" y="101.73" width="17.27" height="17.25" fill="#ae5e94"/><rect x="50.9" y="101.73" width="34.23" height="17.25" fill="#a6588e"/><rect x="84.83" y="101.73" width="68.16" height="17.25" fill="#ae5e94"/><rect x="152.69" y="101.73" width="34.23" height="17.25" fill="#a6588e"/><rect x="186.62" y="101.73" width="186.92" height="17.25" fill="#b46498"/><rect x="373.24" y="101.73" width="85.13" height="17.25" fill="#ae5e94"/><rect x="458.07" y="101.73" width="17.27" height="17.25" fill="#a6588e"/><rect x="475.03" y="101.73" width="17.27" height="17.25" fill="#a05488"/><rect x="492.0" y="101.73" width="34.23" height="17.25" fill="#a6588e"/><rect x="525.93" y="101.73" width="34.23" height="17.25" fill="#b46498"/><rect x="559.86" y="101.73" width="34.23" height="17.25" fill="#ae5e94"/><rect x="593.79" y="101.73" width="51.20" height="17.25" fill="#a6588e"/><rect x="644.69" y="101.73" width="85.13" height="17.25" fill="#ae5e94"/><rect x="729.52" y="101.73" width="34.23" height="17.25" fill="#b46498"/><rect x="763.45" y="101.73" width="68.16" height="17.25" fill="#ae5e94"/><rect x="831.31" y="101.73" width="34.23" height="17.25" fill="#a6588e"/><rect x="865.24" y="101.73" width="34.23" height="17.25" fill="#ae5e94"/><rect x="899.17" y="101.73" width="85.13" height="17.25" fill="#b46498"/><rect x="0.0" y="118.68" width="34.23" height="17.25" fill="#b46498"/><rect x="33.93" y="118.68" width="34.23" height="17.25" fill="#ae5e94"/><rect x="67.86" y="118.68" width="34.23" height="17.25" fill="#a6588e"/><rect x="101.79" y="118.68" width="85.13" height="17.25" fill="#ae5e94"/><rect x="186.62" y="118.68" width="85.13" height="17.25" fill="#b46498"/><rect x="271.45" y="118.68" width="68.16" height="17.25" fill="#ae5e94"/><rect x="339.31" y="118.68" width="68.16" height="17.25" fill="#b46498"/><rect x="407.17" y="118.68" width="51.20" height="17.25" fill="#ae5e94"/><rect x="458.07" y="118.68" width="17.27" height="17.25" fill="#a6588e"/><rect x="475.03" y="118.68" width="17.27" height="17.25" fill="#a05488"/><rect x="492.0" y="118.68" width="34.23" height="17.25" fill="#a6588e"/><rect x="525.93" y="118.68" width="34.23" height="17.25" fill="#b46498"/><rect x="559.86" y="118.68" width="17.27" height="17.25" fill="#ae5e94"/><rect x="576.83" y="118.68" width="68.16" height="17.25" fill="#a6588e"/><rect x="644.69" y="118.68" width="85.13" height="17.25" fill="#ae5e94"/><rect x="729.52" y="118.68" width="17.27" height="17.25" fill="#b46498"/><rect x="746.48" y="118.68" width="34.23" height="17.25" fill="#ba689a"/><rect x="780.41" y="118.68" width="17.27" height="17.25" fill="#b46498"/><rect x="797.38" y="118.68" width="102.09" height="17.25" fill="#ae5e94"/><rect x="899.17" y="118.68" width="85.13" height="17.25" fill="#b46498"/><rect x="0.0" y="135.64" width="17.27" height="17.25" fill="#542498"/><rect x="16.97" y="135.64" width="17.27" height="17.25" fill="#b46498"/><rect x="33.93" y="135.64" width="17.27" height="17.25" fill="#ae5e94"/><rect x="50.9" y="135.64" width="51.20" height="17.25" fill="#a6588e"/><rect x="101.79" y="135.64" width="34.23" height="17.25" fill="#ae5e94"/><rect x="135.72" y="135.64" width="102.09" height="17.25" fill="#b46498"/><rect x="237.52" y="135.64" width="51.20" height="17.25" fill="#ae5e94"/><rect x="288.41" y="135.64" width="34.23" height="17.25" fill="#a6588e"/><rect x="322.34" y="135.64" width="17.27" height="17.25" fill="#ae5e94"/><rect x="339.31" y="135.64" width="102.09" height="17.25" fill="#b46498"/><rect x="441.1" y="135.64" width="34.23" height="17.25" fill="#ae5e94"/><rect x="475.03" y="135.64" width="51.20" height="17.25" fill="#a6588e"/><rect x="525.93" y="135.64" width="34.23" height="17.25" fill="#ae5e94"/><rect x="559.86" y="135.64" width="85.13" height="17.25" fill="#a6588e"/><rect x="644.69" y="135.64" width="85.13" height="17.25" fill="#ae5e94"/><rect x="729.52" y="135.64" width="17.27" height="17.25" fill="#b46498"/><rect x="746.48" y="135.64" width="34.23" height="17.25" fill="#ba689a"/><rect x="780.41" y="135.64" width="17.27" height="17.25" fill="#b46498"/><rect x="797.38" y="135.64" width="34.23" height="17.25" fill="#ae5e94"/><rect x="831.31" y="135.64" width="17.27" height="17.25" fill="#542498"/><rect x="848.28" y="135.64" width="51.20" height="17.25" fill="#ae5e94"/><rect x="899.17" y="135.64" width="17.27" height="17.25" fill="#b46498"/><rect x="916.14" y="135.64" width="34.23" height="17.25" fill="#ba689a"/><rect x="950.07" y="135.64" width="34.23" height="17.25" fill="#b46498"/><rect x="0.0" y="152.59" width="34.23" height="17.25" fill="#542498"/><rect x="33.93" y="152.59" width="17.27" height="17.25" fill="#ae5e94"/><rect x="50.9" y="152.59" width="51.20" height="17.25" fill="#a6588e"/><rect x="101.79" y="152.59" width="34.23" height="17.25" fill="#ae5e94"/><rect x="135.72" y="152.59" width="119.06" height="17.25" fill="#b46498"/><rect x="254.48" y="152.59" width="85.13" height="17.25" fill="#542498"/><rect x="339.31" y="152.59" width="136.02" height="17.25" fill="#b46498"/><rect x="475.03" y="152.59" width="17.27" height="17.25" fill="#ae5e94"/><rect x="492.0" y="152.59" width="51.20" height="17.25" fill="#a6588e"/><rect x="542.9" y="152.59" width="34.23" height="17.25" fill="#ae5e94"/><rect x="576.83" y="152.59" width="51.20" height="17.25" fill="#b46498"/><rect x="627.72" y="152.59" width="102.09" height="17.25" fill="#ae5e94"/><rect x="729.52" y="152.59" width="68.16" height="17.25" fill="#b46498"/><rect x="797.38" y="152.59" width="85.13" height="17.25" fill="#542498"/><rect x="882.21" y="152.59" width="85.13" height="17.25" fill="#b46498"/><rect x="967.03" y="152.59" width="17.27" height="17.25" fill="#542498"/><rect x="0.0" y="169.55" width="51.20" height="17.25" fill="#542498"/><rect x="50.9" y="169.55" width="17.27" height="17.25" fill="#ae5e94"/><rect x="67.86" y="169.55" width="34.23" height="17.25" fill="#a6588e"/><rect x="101.79" y="169.55" width="34.23" height="17.25" fill="#ae5e94"/><rect x="135.72" y="169.55" width="68.16" height="17.25" fill="#b46498"/><rect x="203.59" y="169.55" width="152.99" height="17.25" fill="#542498"/><rect x="356.28" y="169.55" width="102.09" height="17.25" fill="#b46498"/><rect x="458.07" y="169.55" width="85.13" height="17.25" fill="#ae5e94"/><rect x="542.9" y="169.55" width="102.09" height="17.25" fill="#b46498"/><rect x="644.69" y="169.55" width="102.09" height="17.25" fill="#ae5e94"/><rect x="746.48" y="169.55" width="34.23" height="17.25" fill="#b46498"/><rect x="780.41" y="169.55" width="136.02" height="17.25" fill="#542498"/><rect x="916.14" y="169.55" width="17.27" height="17.25" fill="#b46498"/><rect x="933.1" y="169.55" width="51.20" height="17.25" fill="#542498"/><rect x="0.0" y="186.5" width="68.16" height="17.25" fill="#542498"/><rect x="67.86" y="186.5" width="68.16" height="17.25" fill="#ae5e94"/><rect x="135.72" y="186.5" width="68.16" height="17.25" fill="#b46498"/><rect x="203.59" y="186.5" width="186.92" height="17.25" fill="#542498"/><rect x="390.21" y="186.5" width="51.20" height="17.25" fill="#b46498"/><rect x="441.1" y="186.5" width="51.20" height="17.25" fill="#542498"/><rect x="492.0" y="186.5" width="17.27" height="17.25" fill="#ae5e94"/><rect x="508.97" y="186.5" width="169.96" height="17.25" fill="#b46498"/><rect x="678.62" y="186.5" width="68.16" height="17.25" fill="#ae5e94"/><rect x="746.48" y="186.5" width="34.23" height="17.25" fill="#b46498"/><rect x="780.41" y="186.5" width="203.89" height="17.25" fill="#542498"/><rect x="0.0" y="203.45" width="68.16" height="17.25" fill="#542498"/><rect x="67.86" y="203.45" width="119.06" height="17.25" fill="#b46498"/><rect x="186.62" y="203.45" width="322.64" height="17.25" fill="#542498"/><rect x="508.97" y="203.45" width="17.27" height="17.25" fill="#ae5e94"/><rect x="525.93" y="203.45" width="85.13" height="17.25" fill="#b46498"/><rect x="610.76" y="203.45" width="68.16" height="17.25" fill="#542498"/><rect x="678.62" y="203.45" width="17.27" height="17.25" fill="#ae5e94"/><rect x="695.59" y="203.45" width="85.13" height="17.25" fill="#b46498"/><rect x="780.41" y="203.45" width="203.89" height="17.25" fill="#542498"/><rect x="0.0" y="220.41" width="119.06" height="17.25" fill="#542498"/><rect x="118.76" y="220.41" width="68.16" height="17.25" fill="#b46498"/><rect x="186.62" y="220.41" width="356.58" height="17.25" fill="#542498"/><rect x="542.9" y="220.41" width="51.20" height="17.25" fill="#b46498"/><rect x="593.79" y="220.41" width="102.09" height="17.25" fill="#542498"/><rect x="695.59" y="220.41" width="68.16" height="17.25" fill="#b46498"/><rect x="763.45" y="220.41" width="220.85" height="17.25" fill="#542498"/><rect x="0.0" y="237.36" width="746.78" height="17.25" fill="#542498"/><rect x="746.48" y="237.36" width="17.27" height="17.25" fill="#b46498"/><rect x="763.45" y="237.36" width="220.85" height="17.25" fill="#542498"/><rect x="0.0" y="254.32" width="984.30" height="17.25" fill="#542498"/><rect x="0.0" y="271.27" width="984.30" height="17.25" fill="#542498"/><rect x="0.0" y="288.23" width="984.30" height="17.25" fill="#542498"/><rect x="0.0" y="305.18" width="984.30" height="17.25" fill="#542498"/><rect x="0.0" y="322.14" width="984.30" height="17.25" fill="#542498"/><rect x="0.0" y="339.09" width="984.30" height="17.25" fill="#542498"/><rect x="0.0" y="356.05" width="984.30" height="17.25" fill="#542498"/><g fill="#0a0a14" shape-rendering="auto"><circle cx="8.7" cy="153.4" r="1.9"/><circle cx="24.8" cy="161.1" r="1.9"/><circle cx="26.8" cy="161.1" r="1.9"/><circle cx="42.2" cy="178.2" r="1.9"/><circle cx="44.2" cy="178.2" r="1.9"/><circle cx="55.1" cy="195.4" r="1.9"/><circle cx="59.6" cy="203.3" r="1.9"/><circle cx="66.3" cy="212.3" r="1.9"/><circle cx="76.4" cy="223.4" r="1.9"/><circle cx="88.4" cy="229.4" r="1.9"/><circle cx="93.3" cy="231.4" r="1.9"/><circle cx="110.7" cy="234.4" r="1.9"/><circle cx="127.3" cy="238.3" r="1.9"/><circle cx="144.5" cy="243.3" r="1.9"/><circle cx="161.6" cy="245.3" r="1.9"/><circle cx="176.2" cy="246.3" r="1.9"/><circle cx="179.2" cy="246.3" r="1.9"/><circle cx="195.3" cy="234.4" r="1.9"/><circle cx="197.3" cy="229.4" r="1.9"/><circle cx="203.5" cy="212.3" r="1.9"/><circle cx="210.5" cy="195.4" r="1.9"/><circle cx="212.5" cy="192.4" r="1.9"/><circle cx="229.3" cy="178.2" r="1.9"/><circle cx="246.2" cy="172.5" r="1.9"/><circle cx="263.3" cy="165.3" r="1.9"/><circle cx="274.5" cy="161.4" r="1.9"/><circle cx="280.5" cy="158.4" r="1.9"/><circle cx="297.3" cy="157.4" r="1.9"/><circle cx="310.2" cy="161.4" r="1.9"/><circle cx="314.5" cy="163.3" r="1.9"/><circle cx="331.3" cy="173.3" r="1.9"/><circle cx="339.1" cy="178.2" r="1.9"/><circle cx="348.4" cy="185.2" r="1.9"/><circle cx="361.3" cy="195.1" r="1.9"/><circle cx="365.3" cy="197.1" r="1.9"/><circle cx="382.4" cy="208.3" r="1.9"/><circle cx="395.6" cy="212.3" r="1.9"/><circle cx="399.1" cy="213.3" r="1.9"/><circle cx="416.4" cy="213.3" r="1.9"/><circle cx="421.4" cy="212.3" r="1.9"/><circle cx="433.3" cy="209.3" r="1.9"/><circle cx="448.2" cy="195.1" r="1.9"/><circle cx="450.7" cy="194.1" r="1.9"/><circle cx="467.3" cy="188.4" r="1.9"/><circle cx="481.2" cy="195.1" r="1.9"/><circle cx="484.2" cy="197.1" r="1.9"/><circle cx="500.6" cy="210.3" r="1.9"/><circle cx="503.6" cy="212.3" r="1.9"/><circle cx="517.2" cy="227.4" r="1.9"/><circle cx="521.7" cy="229.4" r="1.9"/><circle cx="534.3" cy="234.4" r="1.9"/><circle cx="551.5" cy="237.3" r="1.9"/><circle cx="568.6" cy="239.3" r="1.9"/><circle cx="585.5" cy="238.3" r="1.9"/><circle cx="602.3" cy="232.4" r="1.9"/><circle cx="606.3" cy="229.4" r="1.9"/><circle cx="619.5" cy="217.2" r="1.9"/><circle cx="636.3" cy="212.3" r="1.9"/><circle cx="637.3" cy="212.3" r="1.9"/><circle cx="653.5" cy="213.3" r="1.9"/><circle cx="670.3" cy="218.2" r="1.9"/><circle cx="687.1" cy="228.3" r="1.9"/><circle cx="688.4" cy="229.2" r="1.9"/><circle cx="704.5" cy="239.1" r="1.9"/><circle cx="715.6" cy="246.4" r="1.9"/><circle cx="721.4" cy="249.3" r="1.9"/><circle cx="738.6" cy="255.4" r="1.9"/><circle cx="755.4" cy="262.7" r="1.9"/><circle cx="772.4" cy="251.4" r="1.9"/><circle cx="774.4" cy="246.4" r="1.9"/><circle cx="776.4" cy="229.4" r="1.9"/><circle cx="777.6" cy="212.4" r="1.9"/><circle cx="780.5" cy="195.2" r="1.9"/><circle cx="789.3" cy="181.2" r="1.9"/><circle cx="792.5" cy="178.3" r="1.9"/><circle cx="806.5" cy="168.3" r="1.9"/><circle cx="817.4" cy="161.3" r="1.9"/><circle cx="823.3" cy="157.2" r="1.9"/><circle cx="840.5" cy="153.4" r="1.9"/><circle cx="857.5" cy="155.4" r="1.9"/><circle cx="869.4" cy="161.3" r="1.9"/><circle cx="874.4" cy="164.2" r="1.9"/><circle cx="891.2" cy="177.1" r="1.9"/><circle cx="894.6" cy="178.3" r="1.9"/><circle cx="908.1" cy="183.2" r="1.9"/><circle cx="925.6" cy="187.3" r="1.9"/><circle cx="942.3" cy="184.4" r="1.9"/><circle cx="954.3" cy="178.3" r="1.9"/><circle cx="959.3" cy="176.2" r="1.9"/><circle cx="976.5" cy="171.2" r="1.9"/></g></svg><svg class="im" style="top:949px" viewBox="0 0 984 373"><rect x="0.0" y="0.0" width="34.23" height="17.25" fill="#bc1646"/><rect x="33.93" y="0.0" width="34.23" height="17.25" fill="#bc1e4c"/><rect x="67.86" y="0.0" width="102.09" height="17.25" fill="#be0434"/><rect x="169.66" y="0.0" width="17.27" height="17.25" fill="#bc0c3e"/><rect x="186.62" y="0.0" width="119.06" height="17.25" fill="#bc1646"/><rect x="305.38" y="0.0" width="51.20" height="17.25" fill="#bc0c3e"/><rect x="356.28" y="0.0" width="254.78" height="17.25" fill="#bc1646"/><rect x="610.76" y="0.0" width="85.13" height="17.25" fill="#bc0c3e"/><rect x="695.59" y="0.0" width="34.23" height="17.25" fill="#be0434"/><rect x="729.52" y="0.0" width="51.20" height="17.25" fill="#bc0c3e"/><rect x="780.41" y="0.0" width="203.89" height="17.25" fill="#bc1646"/><rect x="0.0" y="16.95" width="34.23" height="17.25" fill="#bc1646"/><rect x="33.93" y="16.95" width="34.23" height="17.25" fill="#bc1e4c"/><rect x="67.86" y="16.95" width="17.27" height="17.25" fill="#bc0c3e"/><rect x="84.83" y="16.95" width="85.13" height="17.25" fill="#be0434"/><rect x="169.66" y="16.95" width="17.27" height="17.25" fill="#bc0c3e"/><rect x="186.62" y="16.95" width="102.09" height="17.25" fill="#bc1646"/><rect x="288.41" y="16.95" width="85.13" height="17.25" fill="#bc0c3e"/><rect x="373.24" y="16.95" width="237.82" height="17.25" fill="#bc1646"/><rect x="610.76" y="16.95" width="68.16" height="17.25" fill="#bc0c3e"/><rect x="678.62" y="16.95" width="68.16" height="17.25" fill="#be0434"/><rect x="746.48" y="16.95" width="34.23" height="17.25" fill="#bc0c3e"/><rect x="780.41" y="16.95" width="203.89" height="17.25" fill="#bc1646"/><rect x="0.0" y="33.91" width="68.16" height="17.25" fill="#bc1646"/><rect x="67.86" y="33.91" width="17.27" height="17.25" fill="#bc0c3e"/><rect x="84.83" y="33.91" width="85.13" height="17.25" fill="#be0434"/><rect x="169.66" y="33.91" width="17.27" height="17.25" fill="#bc0c3e"/><rect x="186.62" y="33.91" width="102.09" height="17.25" fill="#bc1646"/><rect x="288.41" y="33.91" width="17.27" height="17.25" fill="#bc0c3e"/><rect x="305.38" y="33.91" width="34.23" height="17.25" fill="#be0434"/><rect x="339.31" y="33.91" width="51.20" height="17.25" fill="#bc0c3e"/><rect x="390.21" y="33.91" width="51.20" height="17.25" fill="#bc1646"/><rect x="441.1" y="33.91" width="68.16" height="17.25" fill="#bc1e4c"/><rect x="508.97" y="33.91" width="119.06" height="17.25" fill="#bc1646"/><rect x="627.72" y="33.91" width="51.20" height="17.25" fill="#bc0c3e"/><rect x="678.62" y="33.91" width="85.13" height="17.25" fill="#be0434"/><rect x="763.45" y="33.91" width="34.23" height="17.25" fill="#bc0c3e"/><rect x="797.38" y="33.91" width="186.92" height="17.25" fill="#bc1646"/><rect x="0.0" y="50.86" width="85.13" height="17.25" fill="#bc1646"/><rect x="84.83" y="50.86" width="17.27" height="17.25" fill="#bc0c3e"/><rect x="101.79" y="50.86" width="68.16" height="17.25" fill="#be0434"/><rect x="169.66" y="50.86" width="34.23" height="17.25" fill="#bc0c3e"/><rect x="203.59" y="50.86" width="85.13" height="17.25" fill="#bc1646"/><rect x="288.41" y="50.86" width="17.27" height="17.25" fill="#bc0c3e"/><rect x="305.38" y="50.86" width="51.20" height="17.25" fill="#be0434"/><rect x="356.28" y="50.86" width="51.20" height="17.25" fill="#bc0c3e"/><rect x="407.17" y="50.86" width="34.23" height="17.25" fill="#bc1646"/><rect x="441.1" y="50.86" width="85.13" height="17.25" fill="#bc1e4c"/><rect x="525.93" y="50.86" width="119.06" height="17.25" fill="#bc1646"/><rect x="644.69" y="50.86" width="34.23" height="17.25" fill="#bc0c3e"/><rect x="678.62" y="50.86" width="85.13" height="17.25" fill="#be0434"/><rect x="763.45" y="50.86" width="34.23" height="17.25" fill="#bc0c3e"/><rect x="797.38" y="50.86" width="186.92" height="17.25" fill="#bc1646"/><rect x="0.0" y="67.82" width="34.23" height="17.25" fill="#bc0c3e"/><rect x="33.93" y="67.82" width="51.20" height="17.25" fill="#bc1646"/><rect x="84.83" y="67.82" width="34.23" height="17.25" fill="#bc0c3e"/><rect x="118.76" y="67.82" width="51.20" height="17.25" fill="#be0434"/><rect x="169.66" y="67.82" width="34.23" height="17.25" fill="#bc0c3e"/><rect x="203.59" y="67.82" width="85.13" height="17.25" fill="#bc1646"/><rect x="288.41" y="67.82" width="17.27" height="17.25" fill="#bc0c3e"/><rect x="305.38" y="67.82" width="68.16" height="17.25" fill="#be0434"/><rect x="373.24" y="67.82" width="34.23" height="17.25" fill="#bc0c3e"/><rect x="407.17" y="67.82" width="51.20" height="17.25" fill="#bc1646"/><rect x="458.07" y="67.82" width="68.16" height="17.25" fill="#bc1e4c"/><rect x="525.93" y="67.82" width="119.06" height="17.25" fill="#bc1646"/><rect x="644.69" y="67.82" width="51.20" height="17.25" fill="#bc0c3e"/><rect x="695.59" y="67.82" width="68.16" height="17.25" fill="#be0434"/><rect x="763.45" y="67.82" width="34.23" height="17.25" fill="#bc0c3e"/><rect x="797.38" y="67.82" width="186.92" height="17.25" fill="#bc1646"/><rect x="0.0" y="84.77" width="102.09" height="17.25" fill="#bc1646"/><rect x="101.79" y="84.77" width="34.23" height="17.25" fill="#bc0c3e"/><rect x="135.72" y="84.77" width="34.23" height="17.25" fill="#be0434"/><rect x="169.66" y="84.77" width="17.27" height="17.25" fill="#bc0c3e"/><rect x="186.62" y="84.77" width="119.06" height="17.25" fill="#bc1646"/><rect x="305.38" y="84.77" width="17.27" height="17.25" fill="#bc0c3e"/><rect x="322.34" y="84.77" width="68.16" height="17.25" fill="#be0434"/><rect x="390.21" y="84.77" width="34.23" height="17.25" fill="#bc0c3e"/><rect x="424.14" y="84.77" width="68.16" height="17.25" fill="#bc1646"/><rect x="492.0" y="84.77" width="51.20" height="17.25" fill="#bc1e4c"/><rect x="542.9" y="84.77" width="119.06" height="17.25" fill="#bc1646"/><rect x="661.66" y="84.77" width="34.23" height="17.25" fill="#bc0c3e"/><rect x="695.59" y="84.77" width="68.16" height="17.25" fill="#be0434"/><rect x="763.45" y="84.77" width="17.27" height="17.25" fill="#bc0c3e"/><rect x="780.41" y="84.77" width="203.89" height="17.25" fill="#bc1646"/><rect x="0.0" y="101.73" width="119.06" height="17.25" fill="#bc1646"/><rect x="118.76" y="101.73" width="68.16" height="17.25" fill="#bc0c3e"/><rect x="186.62" y="101.73" width="136.02" height="17.25" fill="#bc1646"/><rect x="322.34" y="101.73" width="17.27" height="17.25" fill="#bc0c3e"/><rect x="339.31" y="101.73" width="51.20" height="17.25" fill="#be0434"/><rect x="390.21" y="101.73" width="34.23" height="17.25" fill="#bc0c3e"/><rect x="424.14" y="101.73" width="68.16" height="17.25" fill="#bc1646"/><rect x="492.0" y="101.73" width="51.20" height="17.25" fill="#bc1e4c"/><rect x="542.9" y="101.73" width="119.06" height="17.25" fill="#bc1646"/><rect x="661.66" y="101.73" width="34.23" height="17.25" fill="#bc0c3e"/><rect x="695.59" y="101.73" width="51.20" height="17.25" fill="#be0434"/><rect x="746.48" y="101.73" width="34.23" height="17.25" fill="#bc0c3e"/><rect x="780.41" y="101.73" width="203.89" height="17.25" fill="#bc1646"/><rect x="0.0" y="118.68" width="17.27" height="17.25" fill="#c03862"/><rect x="16.97" y="118.68" width="17.27" height="17.25" fill="#bc1e4c"/><rect x="33.93" y="118.68" width="186.92" height="17.25" fill="#bc1646"/><rect x="220.55" y="118.68" width="102.09" height="17.25" fill="#bc1e4c"/><rect x="322.34" y="118.68" width="17.27" height="17.25" fill="#bc1646"/><rect x="339.31" y="118.68" width="34.23" height="17.25" fill="#bc0c3e"/><rect x="373.24" y="118.68" width="17.27" height="17.25" fill="#be0434"/><rect x="390.21" y="118.68" width="34.23" height="17.25" fill="#bc0c3e"/><rect x="424.14" y="118.68" width="68.16" height="17.25" fill="#bc1646"/><rect x="492.0" y="118.68" width="34.23" height="17.25" fill="#bc1e4c"/><rect x="525.93" y="118.68" width="102.09" height="17.25" fill="#bc1646"/><rect x="627.72" y="118.68" width="34.23" height="17.25" fill="#bc1e4c"/><rect x="661.66" y="118.68" width="17.27" height="17.25" fill="#bc1646"/><rect x="678.62" y="118.68" width="34.23" height="17.25" fill="#bc0c3e"/><rect x="712.55" y="118.68" width="34.23" height="17.25" fill="#be0434"/><rect x="746.48" y="118.68" width="34.23" height="17.25" fill="#bc0c3e"/><rect x="780.41" y="118.68" width="17.27" height="17.25" fill="#bc1646"/><rect x="797.38" y="118.68" width="186.92" height="17.25" fill="#bc1e4c"/><rect x="0.0" y="135.64" width="17.27" height="17.25" fill="#c24c78"/><rect x="16.97" y="135.64" width="17.27" height="17.25" fill="#c03862"/><rect x="33.93" y="135.64" width="34.23" height="17.25" fill="#bc1e4c"/><rect x="67.86" y="135.64" width="152.99" height="17.25" fill="#bc1646"/><rect x="220.55" y="135.64" width="17.27" height="17.25" fill="#c03862"/><rect x="237.52" y="135.64" width="68.16" height="17.25" fill="#c24c78"/><rect x="305.38" y="135.64" width="17.27" height="17.25" fill="#c03862"/><rect x="322.34" y="135.64" width="17.27" height="17.25" fill="#bc1e4c"/><rect x="339.31" y="135.64" width="17.27" height="17.25" fill="#bc1646"/><rect x="356.28" y="135.64" width="68.16" height="17.25" fill="#bc0c3e"/><rect x="424.14" y="135.64" width="68.16" height="17.25" fill="#bc1646"/><rect x="492.0" y="135.64" width="34.23" height="17.25" fill="#bc1e4c"/><rect x="525.93" y="135.64" width="102.09" height="17.25" fill="#bc1646"/><rect x="627.72" y="135.64" width="34.23" height="17.25" fill="#bc1e4c"/><rect x="661.66" y="135.64" width="34.23" height="17.25" fill="#bc1646"/><rect x="695.59" y="135.64" width="68.16" height="17.25" fill="#bc0c3e"/><rect x="763.45" y="135.64" width="17.27" height="17.25" fill="#bc1646"/><rect x="780.41" y="135.64" width="17.27" height="17.25" fill="#bc1e4c"/><rect x="797.38" y="135.64" width="17.27" height="17.25" fill="#c03862"/><rect x="814.34" y="135.64" width="68.16" height="17.25" fill="#c24c78"/><rect x="882.21" y="135.64" width="102.09" height="17.25" fill="#c03862"/><rect x="0.0" y="152.59" width="17.27" height="17.25" fill="#b058a0"/><rect x="16.97" y="152.59" width="17.27" height="17.25" fill="#c45888"/><rect x="33.93" y="152.59" width="17.27" height="17.25" fill="#c03862"/><rect x="50.9" y="152.59" width="34.23" height="17.25" fill="#bc1e4c"/><rect x="84.83" y="152.59" width="102.09" height="17.25" fill="#bc1646"/><rect x="186.62" y="152.59" width="34.23" height="17.25" fill="#bc1e4c"/><rect x="220.55" y="152.59" width="17.27" height="17.25" fill="#c24c78"/><rect x="237.52" y="152.59" width="17.27" height="17.25" fill="#c45888"/><rect x="254.48" y="152.59" width="51.20" height="17.25" fill="#b058a0"/><rect x="305.38" y="152.59" width="17.27" height="17.25" fill="#c45888"/><rect x="322.34" y="152.59" width="17.27" height="17.25" fill="#c03862"/><rect x="339.31" y="152.59" width="17.27" height="17.25" fill="#bc1e4c"/><rect x="356.28" y="152.59" width="85.13" height="17.25" fill="#bc1646"/><rect x="441.1" y="152.59" width="102.09" height="17.25" fill="#bc1e4c"/><rect x="542.9" y="152.59" width="68.16" height="17.25" fill="#bc1646"/><rect x="610.76" y="152.59" width="68.16" height="17.25" fill="#bc1e4c"/><rect x="678.62" y="152.59" width="17.27" height="17.25" fill="#bc1646"/><rect x="695.59" y="152.59" width="51.20" height="17.25" fill="#bc0c3e"/><rect x="746.48" y="152.59" width="17.27" height="17.25" fill="#bc1646"/><rect x="763.45" y="152.59" width="17.27" height="17.25" fill="#bc1e4c"/><rect x="780.41" y="152.59" width="17.27" height="17.25" fill="#c03862"/><rect x="797.38" y="152.59" width="34.23" height="17.25" fill="#c45888"/><rect x="831.31" y="152.59" width="17.27" height="17.25" fill="#b058a0"/><rect x="848.28" y="152.59" width="34.23" height="17.25" fill="#c45888"/><rect x="882.21" y="152.59" width="85.13" height="17.25" fill="#c24c78"/><rect x="967.03" y="152.59" width="17.27" height="17.25" fill="#c45888"/><rect x="0.0" y="169.55" width="17.27" height="17.25" fill="#a048a0"/><rect x="16.97" y="169.55" width="17.27" height="17.25" fill="#b058a0"/><rect x="33.93" y="169.55" width="17.27" height="17.25" fill="#c45888"/><rect x="50.9" y="169.55" width="17.27" height="17.25" fill="#c03862"/><rect x="67.86" y="169.55" width="119.06" height="17.25" fill="#bc1e4c"/><rect x="186.62" y="169.55" width="17.27" height="17.25" fill="#c03862"/><rect x="203.59" y="169.55" width="17.27" height="17.25" fill="#c24c78"/><rect x="220.55" y="169.55" width="17.27" height="17.25" fill="#c45888"/><rect x="237.52" y="169.55" width="17.27" height="17.25" fill="#a048a0"/><rect x="254.48" y="169.55" width="34.23" height="17.25" fill="#7c2ca0"/><rect x="288.41" y="169.55" width="17.27" height="17.25" fill="#9040a0"/><rect x="305.38" y="169.55" width="17.27" height="17.25" fill="#a048a0"/><rect x="322.34" y="169.55" width="17.27" height="17.25" fill="#c45888"/><rect x="339.31" y="169.55" width="17.27" height="17.25" fill="#c03862"/><rect x="356.28" y="169.55" width="68.16" height="17.25" fill="#bc1e4c"/><rect x="424.14" y="169.55" width="17.27" height="17.25" fill="#c03862"/><rect x="441.1" y="169.55" width="51.20" height="17.25" fill="#c24c78"/><rect x="492.0" y="169.55" width="34.23" height="17.25" fill="#c03862"/><rect x="525.93" y="169.55" width="152.99" height="17.25" fill="#bc1e4c"/><rect x="678.62" y="169.55" width="34.23" height="17.25" fill="#bc1646"/><rect x="712.55" y="169.55" width="34.23" height="17.25" fill="#bc0c3e"/><rect x="746.48" y="169.55" width="17.27" height="17.25" fill="#bc1646"/><rect x="763.45" y="169.55" width="17.27" height="17.25" fill="#c03862"/><rect x="780.41" y="169.55" width="17.27" height="17.25" fill="#c45888"/><rect x="797.38" y="169.55" width="17.27" height="17.25" fill="#a048a0"/><rect x="814.34" y="169.55" width="51.20" height="17.25" fill="#9040a0"/><rect x="865.24" y="169.55" width="17.27" height="17.25" fill="#a048a0"/><rect x="882.21" y="169.55" width="85.13" height="17.25" fill="#c45888"/><rect x="967.03" y="169.55" width="17.27" height="17.25" fill="#b058a0"/><rect x="0.0" y="186.5" width="17.27" height="17.25" fill="#7c2ca0"/><rect x="16.97" y="186.5" width="17.27" height="17.25" fill="#9040a0"/><rect x="33.93" y="186.5" width="17.27" height="17.25" fill="#b058a0"/><rect x="50.9" y="186.5" width="17.27" height="17.25" fill="#c45888"/><rect x="67.86" y="186.5" width="119.06" height="17.25" fill="#c03862"/><rect x="186.62" y="186.5" width="17.27" height="17.25" fill="#c24c78"/><rect x="203.59" y="186.5" width="17.27" height="17.25" fill="#c45888"/><rect x="220.55" y="186.5" width="17.27" height="17.25" fill="#7c2ca0"/><rect x="237.52" y="186.5" width="68.16" height="17.25" fill="#6c1ca0"/><rect x="305.38" y="186.5" width="17.27" height="17.25" fill="#7c2ca0"/><rect x="322.34" y="186.5" width="17.27" height="17.25" fill="#9040a0"/><rect x="339.31" y="186.5" width="17.27" height="17.25" fill="#b058a0"/><rect x="356.28" y="186.5" width="17.27" height="17.25" fill="#c24c78"/><rect x="373.24" y="186.5" width="51.20" height="17.25" fill="#c03862"/><rect x="424.14" y="186.5" width="17.27" height="17.25" fill="#c24c78"/><rect x="441.1" y="186.5" width="51.20" height="17.25" fill="#b058a0"/><rect x="492.0" y="186.5" width="17.27" height="17.25" fill="#c24c78"/><rect x="508.97" y="186.5" width="169.96" height="17.25" fill="#c03862"/><rect x="678.62" y="186.5" width="85.13" height="17.25" fill="#bc1e4c"/><rect x="763.45" y="186.5" width="17.27" height="17.25" fill="#c24c78"/><rect x="780.41" y="186.5" width="17.27" height="17.25" fill="#a048a0"/><rect x="797.38" y="186.5" width="68.16" height="17.25" fill="#7c2ca0"/><rect x="865.24" y="186.5" width="17.27" height="17.25" fill="#9040a0"/><rect x="882.21" y="186.5" width="85.13" height="17.25" fill="#b058a0"/><rect x="967.03" y="186.5" width="17.27" height="17.25" fill="#9040a0"/><rect x="0.0" y="203.45" width="17.27" height="17.25" fill="#6c1ca0"/><rect x="16.97" y="203.45" width="17.27" height="17.25" fill="#7c2ca0"/><rect x="33.93" y="203.45" width="17.27" height="17.25" fill="#9040a0"/><rect x="50.9" y="203.45" width="17.27" height="17.25" fill="#b058a0"/><rect x="67.86" y="203.45" width="119.06" height="17.25" fill="#c24c78"/><rect x="186.62" y="203.45" width="17.27" height="17.25" fill="#c45888"/><rect x="203.59" y="203.45" width="17.27" height="17.25" fill="#a048a0"/><rect x="220.55" y="203.45" width="34.23" height="17.25" fill="#6c1ca0"/><rect x="254.48" y="203.45" width="51.20" height="17.25" fill="#6210a0"/><rect x="305.38" y="203.45" width="34.23" height="17.25" fill="#6c1ca0"/><rect x="339.31" y="203.45" width="17.27" height="17.25" fill="#9040a0"/><rect x="356.28" y="203.45" width="68.16" height="17.25" fill="#c45888"/><rect x="424.14" y="203.45" width="17.27" height="17.25" fill="#9040a0"/><rect x="441.1" y="203.45" width="17.27" height="17.25" fill="#a048a0"/><rect x="458.07" y="203.45" width="17.27" height="17.25" fill="#9040a0"/><rect x="475.03" y="203.45" width="17.27" height="17.25" fill="#a048a0"/><rect x="492.0" y="203.45" width="17.27" height="17.25" fill="#c45888"/><rect x="508.97" y="203.45" width="102.09" height="17.25" fill="#c24c78"/><rect x="610.76" y="203.45" width="68.16" height="17.25" fill="#c45888"/><rect x="678.62" y="203.45" width="85.13" height="17.25" fill="#c03862"/><rect x="763.45" y="203.45" width="17.27" height="17.25" fill="#c45888"/><rect x="780.41" y="203.45" width="17.27" height="17.25" fill="#9040a0"/><rect x="797.38" y="203.45" width="51.20" height="17.25" fill="#6c1ca0"/><rect x="848.28" y="203.45" width="34.23" height="17.25" fill="#7c2ca0"/><rect x="882.21" y="203.45" width="102.09" height="17.25" fill="#9040a0"/><rect x="0.0" y="220.41" width="17.27" height="17.25" fill="#6210a0"/><rect x="16.97" y="220.41" width="17.27" height="17.25" fill="#6c1ca0"/><rect x="33.93" y="220.41" width="17.27" height="17.25" fill="#7c2ca0"/><rect x="50.9" y="220.41" width="17.27" height="17.25" fill="#a048a0"/><rect x="67.86" y="220.41" width="119.06" height="17.25" fill="#c45888"/><rect x="186.62" y="220.41" width="17.27" height="17.25" fill="#b058a0"/><rect x="203.59" y="220.41" width="17.27" height="17.25" fill="#7c2ca0"/><rect x="220.55" y="220.41" width="17.27" height="17.25" fill="#6c1ca0"/><rect x="237.52" y="220.41" width="85.13" height="17.25" fill="#6210a0"/><rect x="322.34" y="220.41" width="34.23" height="17.25" fill="#6c1ca0"/><rect x="356.28" y="220.41" width="68.16" height="17.25" fill="#a048a0"/><rect x="424.14" y="220.41" width="17.27" height="17.25" fill="#7c2ca0"/><rect x="441.1" y="220.41" width="34.23" height="17.25" fill="#6c1ca0"/><rect x="475.03" y="220.41" width="17.27" height="17.25" fill="#7c2ca0"/><rect x="492.0" y="220.41" width="17.27" height="17.25" fill="#9040a0"/><rect x="508.97" y="220.41" width="102.09" height="17.25" fill="#c45888"/><rect x="610.76" y="220.41" width="17.27" height="17.25" fill="#9040a0"/><rect x="627.72" y="220.41" width="34.23" height="17.25" fill="#7c2ca0"/><rect x="661.66" y="220.41" width="17.27" height="17.25" fill="#9040a0"/><rect x="678.62" y="220.41" width="85.13" height="17.25" fill="#c24c78"/><rect x="763.45" y="220.41" width="17.27" height="17.25" fill="#c45888"/><rect x="780.41" y="220.41" width="17.27" height="17.25" fill="#7c2ca0"/><rect x="797.38" y="220.41" width="152.99" height="17.25" fill="#6c1ca0"/><rect x="950.07" y="220.41" width="34.23" height="17.25" fill="#7c2ca0"/><rect x="0.0" y="237.36" width="17.27" height="17.25" fill="#6210a0"/><rect x="16.97" y="237.36" width="34.23" height="17.25" fill="#6c1ca0"/><rect x="50.9" y="237.36" width="17.27" height="17.25" fill="#7c2ca0"/><rect x="67.86" y="237.36" width="17.27" height="17.25" fill="#9040a0"/><rect x="84.83" y="237.36" width="17.27" height="17.25" fill="#a048a0"/><rect x="101.79" y="237.36" width="34.23" height="17.25" fill="#b058a0"/><rect x="135.72" y="237.36" width="51.20" height="17.25" fill="#c45888"/><rect x="186.62" y="237.36" width="17.27" height="17.25" fill="#b058a0"/><rect x="203.59" y="237.36" width="17.27" height="17.25" fill="#7c2ca0"/><rect x="220.55" y="237.36" width="119.06" height="17.25" fill="#6210a0"/><rect x="339.31" y="237.36" width="17.27" height="17.25" fill="#6c1ca0"/><rect x="356.28" y="237.36" width="68.16" height="17.25" fill="#7c2ca0"/><rect x="424.14" y="237.36" width="17.27" height="17.25" fill="#6c1ca0"/><rect x="441.1" y="237.36" width="34.23" height="17.25" fill="#6210a0"/><rect x="475.03" y="237.36" width="17.27" height="17.25" fill="#6c1ca0"/><rect x="492.0" y="237.36" width="17.27" height="17.25" fill="#7c2ca0"/><rect x="508.97" y="237.36" width="85.13" height="17.25" fill="#b058a0"/><rect x="593.79" y="237.36" width="17.27" height="17.25" fill="#9040a0"/><rect x="610.76" y="237.36" width="17.27" height="17.25" fill="#6c1ca0"/><rect x="627.72" y="237.36" width="17.27" height="17.25" fill="#6210a0"/><rect x="644.69" y="237.36" width="17.27" height="17.25" fill="#6c1ca0"/><rect x="661.66" y="237.36" width="17.27" height="17.25" fill="#7c2ca0"/><rect x="678.62" y="237.36" width="17.27" height="17.25" fill="#b058a0"/><rect x="695.59" y="237.36" width="85.13" height="17.25" fill="#c45888"/><rect x="780.41" y="237.36" width="17.27" height="17.25" fill="#7c2ca0"/><rect x="797.38" y="237.36" width="152.99" height="17.25" fill="#6210a0"/><rect x="950.07" y="237.36" width="34.23" height="17.25" fill="#6c1ca0"/><rect x="0.0" y="254.32" width="17.27" height="17.25" fill="#5a089a"/><rect x="16.97" y="254.32" width="17.27" height="17.25" fill="#6210a0"/><rect x="33.93" y="254.32" width="34.23" height="17.25" fill="#6c1ca0"/><rect x="67.86" y="254.32" width="34.23" height="17.25" fill="#7c2ca0"/><rect x="101.79" y="254.32" width="34.23" height="17.25" fill="#9040a0"/><rect x="135.72" y="254.32" width="68.16" height="17.25" fill="#a048a0"/><rect x="203.59" y="254.32" width="17.27" height="17.25" fill="#7c2ca0"/><rect x="220.55" y="254.32" width="34.23" height="17.25" fill="#6210a0"/><rect x="254.48" y="254.32" width="51.20" height="17.25" fill="#5a089a"/><rect x="305.38" y="254.32" width="68.16" height="17.25" fill="#6210a0"/><rect x="373.24" y="254.32" width="51.20" height="17.25" fill="#6c1ca0"/><rect x="424.14" y="254.32" width="68.16" height="17.25" fill="#6210a0"/><rect x="492.0" y="254.32" width="17.27" height="17.25" fill="#6c1ca0"/><rect x="508.97" y="254.32" width="51.20" height="17.25" fill="#7c2ca0"/><rect x="559.86" y="254.32" width="34.23" height="17.25" fill="#9040a0"/><rect x="593.79" y="254.32" width="17.27" height="17.25" fill="#7c2ca0"/><rect x="610.76" y="254.32" width="51.20" height="17.25" fill="#6210a0"/><rect x="661.66" y="254.32" width="17.27" height="17.25" fill="#6c1ca0"/><rect x="678.62" y="254.32" width="17.27" height="17.25" fill="#7c2ca0"/><rect x="695.59" y="254.32" width="17.27" height="17.25" fill="#9040a0"/><rect x="712.55" y="254.32" width="17.27" height="17.25" fill="#b058a0"/><rect x="729.52" y="254.32" width="51.20" height="17.25" fill="#c45888"/><rect x="780.41" y="254.32" width="17.27" height="17.25" fill="#7c2ca0"/><rect x="797.38" y="254.32" width="152.99" height="17.25" fill="#6210a0"/><rect x="950.07" y="254.32" width="34.23" height="17.25" fill="#6c1ca0"/><rect x="0.0" y="271.27" width="17.27" height="17.25" fill="#5a089a"/><rect x="16.97" y="271.27" width="51.20" height="17.25" fill="#6210a0"/><rect x="67.86" y="271.27" width="51.20" height="17.25" fill="#6c1ca0"/><rect x="118.76" y="271.27" width="68.16" height="17.25" fill="#7c2ca0"/><rect x="186.62" y="271.27" width="34.23" height="17.25" fill="#6c1ca0"/><rect x="220.55" y="271.27" width="152.99" height="17.25" fill="#5a089a"/><rect x="373.24" y="271.27" width="51.20" height="17.25" fill="#6210a0"/><rect x="424.14" y="271.27" width="17.27" height="17.25" fill="#5a089a"/><rect x="441.1" y="271.27" width="68.16" height="17.25" fill="#6210a0"/><rect x="508.97" y="271.27" width="102.09" height="17.25" fill="#6c1ca0"/><rect x="610.76" y="271.27" width="68.16" height="17.25" fill="#6210a0"/><rect x="678.62" y="271.27" width="34.23" height="17.25" fill="#6c1ca0"/><rect x="712.55" y="271.27" width="17.27" height="17.25" fill="#7c2ca0"/><rect x="729.52" y="271.27" width="51.20" height="17.25" fill="#9040a0"/><rect x="780.41" y="271.27" width="17.27" height="17.25" fill="#6c1ca0"/><rect x="797.38" y="271.27" width="186.92" height="17.25" fill="#6210a0"/><rect x="0.0" y="288.23" width="51.20" height="17.25" fill="#5a089a"/><rect x="50.9" y="288.23" width="85.13" height="17.25" fill="#6210a0"/><rect x="135.72" y="288.23" width="51.20" height="17.25" fill="#6c1ca0"/><rect x="186.62" y="288.23" width="17.27" height="17.25" fill="#6210a0"/><rect x="203.59" y="288.23" width="17.27" height="17.25" fill="#6c1ca0"/><rect x="220.55" y="288.23" width="288.71" height="17.25" fill="#5a089a"/><rect x="508.97" y="288.23" width="17.27" height="17.25" fill="#6210a0"/><rect x="525.93" y="288.23" width="51.20" height="17.25" fill="#5a089a"/><rect x="576.83" y="288.23" width="136.02" height="17.25" fill="#6210a0"/><rect x="712.55" y="288.23" width="68.16" height="17.25" fill="#6c1ca0"/><rect x="780.41" y="288.23" width="203.89" height="17.25" fill="#6210a0"/><rect x="0.0" y="305.18" width="594.09" height="17.25" fill="#5a089a"/><rect x="593.79" y="305.18" width="85.13" height="17.25" fill="#6210a0"/><rect x="678.62" y="305.18" width="17.27" height="17.25" fill="#5a089a"/><rect x="695.59" y="305.18" width="68.16" height="17.25" fill="#6210a0"/><rect x="763.45" y="305.18" width="17.27" height="17.25" fill="#5a089a"/><rect x="780.41" y="305.18" width="152.99" height="17.25" fill="#6210a0"/><rect x="933.1" y="305.18" width="51.20" height="17.25" fill="#5a089a"/><rect x="0.0" y="322.14" width="780.71" height="17.25" fill="#5a089a"/><rect x="780.41" y="322.14" width="119.06" height="17.25" fill="#6210a0"/><rect x="899.17" y="322.14" width="85.13" height="17.25" fill="#5a089a"/><rect x="0.0" y="339.09" width="780.71" height="17.25" fill="#5a089a"/><rect x="780.41" y="339.09" width="102.09" height="17.25" fill="#6210a0"/><rect x="882.21" y="339.09" width="102.09" height="17.25" fill="#5a089a"/><rect x="0.0" y="356.05" width="780.71" height="17.25" fill="#5a089a"/><rect x="780.41" y="356.05" width="102.09" height="17.25" fill="#6210a0"/><rect x="882.21" y="356.05" width="34.23" height="17.25" fill="#5a089a"/><rect x="916.14" y="356.05" width="68.16" height="17.25" fill="#6210a0"/><g fill="#0a0a14" shape-rendering="auto"><circle cx="8.7" cy="153.4" r="1.9"/><circle cx="24.8" cy="161.1" r="1.9"/><circle cx="26.8" cy="161.1" r="1.9"/><circle cx="42.2" cy="178.2" r="1.9"/><circle cx="44.2" cy="178.2" r="1.9"/><circle cx="55.1" cy="195.4" r="1.9"/><circle cx="59.6" cy="203.3" r="1.9"/><circle cx="66.3" cy="212.3" r="1.9"/><circle cx="76.4" cy="223.4" r="1.9"/><circle cx="88.4" cy="229.4" r="1.9"/><circle cx="93.3" cy="231.4" r="1.9"/><circle cx="110.7" cy="234.4" r="1.9"/><circle cx="127.3" cy="238.3" r="1.9"/><circle cx="144.5" cy="243.3" r="1.9"/><circle cx="161.6" cy="245.3" r="1.9"/><circle cx="176.2" cy="246.3" r="1.9"/><circle cx="179.2" cy="246.3" r="1.9"/><circle cx="195.3" cy="234.4" r="1.9"/><circle cx="197.3" cy="229.4" r="1.9"/><circle cx="203.5" cy="212.3" r="1.9"/><circle cx="210.5" cy="195.4" r="1.9"/><circle cx="212.5" cy="192.4" r="1.9"/><circle cx="229.3" cy="178.2" r="1.9"/><circle cx="246.2" cy="172.5" r="1.9"/><circle cx="263.3" cy="165.3" r="1.9"/><circle cx="274.5" cy="161.4" r="1.9"/><circle cx="280.5" cy="158.4" r="1.9"/><circle cx="297.3" cy="157.4" r="1.9"/><circle cx="310.2" cy="161.4" r="1.9"/><circle cx="314.5" cy="163.3" r="1.9"/><circle cx="331.3" cy="173.3" r="1.9"/><circle cx="339.1" cy="178.2" r="1.9"/><circle cx="348.4" cy="185.2" r="1.9"/><circle cx="361.3" cy="195.1" r="1.9"/><circle cx="365.3" cy="197.1" r="1.9"/><circle cx="382.4" cy="208.3" r="1.9"/><circle cx="395.6" cy="212.3" r="1.9"/><circle cx="399.1" cy="213.3" r="1.9"/><circle cx="416.4" cy="213.3" r="1.9"/><circle cx="421.4" cy="212.3" r="1.9"/><circle cx="433.3" cy="209.3" r="1.9"/><circle cx="448.2" cy="195.1" r="1.9"/><circle cx="450.7" cy="194.1" r="1.9"/><circle cx="467.3" cy="188.4" r="1.9"/><circle cx="481.2" cy="195.1" r="1.9"/><circle cx="484.2" cy="197.1" r="1.9"/><circle cx="500.6" cy="210.3" r="1.9"/><circle cx="503.6" cy="212.3" r="1.9"/><circle cx="517.2" cy="227.4" r="1.9"/><circle cx="521.7" cy="229.4" r="1.9"/><circle cx="534.3" cy="234.4" r="1.9"/><circle cx="551.5" cy="237.3" r="1.9"/><circle cx="568.6" cy="239.3" r="1.9"/><circle cx="585.5" cy="238.3" r="1.9"/><circle cx="602.3" cy="232.4" r="1.9"/><circle cx="606.3" cy="229.4" r="1.9"/><circle cx="619.5" cy="217.2" r="1.9"/><circle cx="636.3" cy="212.3" r="1.9"/><circle cx="637.3" cy="212.3" r="1.9"/><circle cx="653.5" cy="213.3" r="1.9"/><circle cx="670.3" cy="218.2" r="1.9"/><circle cx="687.1" cy="228.3" r="1.9"/><circle cx="688.4" cy="229.2" r="1.9"/><circle cx="704.5" cy="239.1" r="1.9"/><circle cx="715.6" cy="246.4" r="1.9"/><circle cx="721.4" cy="249.3" r="1.9"/><circle cx="738.6" cy="255.4" r="1.9"/><circle cx="755.4" cy="262.7" r="1.9"/><circle cx="772.4" cy="251.4" r="1.9"/><circle cx="774.4" cy="246.4" r="1.9"/><circle cx="776.4" cy="229.4" r="1.9"/><circle cx="777.6" cy="212.4" r="1.9"/><circle cx="780.5" cy="195.2" r="1.9"/><circle cx="789.3" cy="181.2" r="1.9"/><circle cx="792.5" cy="178.3" r="1.9"/><circle cx="806.5" cy="168.3" r="1.9"/><circle cx="817.4" cy="161.3" r="1.9"/><circle cx="823.3" cy="157.2" r="1.9"/><circle cx="840.5" cy="153.4" r="1.9"/><circle cx="857.5" cy="155.4" r="1.9"/><circle cx="869.4" cy="161.3" r="1.9"/><circle cx="874.4" cy="164.2" r="1.9"/><circle cx="891.2" cy="177.1" r="1.9"/><circle cx="894.6" cy="178.3" r="1.9"/><circle cx="908.1" cy="183.2" r="1.9"/><circle cx="925.6" cy="187.3" r="1.9"/><circle cx="942.3" cy="184.4" r="1.9"/><circle cx="954.3" cy="178.3" r="1.9"/><circle cx="959.3" cy="176.2" r="1.9"/><circle cx="976.5" cy="171.2" r="1.9"/></g></svg><div class="lg"></div><div class="lt" style="left:1076px;top:706.1px;transform:scaleX(1.146)">sand</div><div class="lt" style="left:1078.5px;top:736.2px;transform:scaleX(1.189)">whitewater</div><div class="lt" style="left:1078.5px;top:767.1px;transform:scaleX(1.152)">water</div><div class="lt" style="left:1076px;top:797.0px;transform:scaleX(1.179)">shoreline</div><div class="lt" style="left:1076px;top:827.1px;transform:scaleX(1.193)">reference shoreline buffer</div><div class="pt" style="top:707px;height:16px;background:#ff8a3a"></div><div class="pt" style="top:737px;height:16px;background:#c4fcfc"></div><div class="pt" style="top:768px;height:15.5px;background:#0055ff"></div><div class="pt" style="top:805px;height:3px;width:44px;background:#000"></div><div class="pt" style="top:828px;height:17px;background:#a03232;border:1px solid #801818;box-sizing:border-box"></div></body></html>
